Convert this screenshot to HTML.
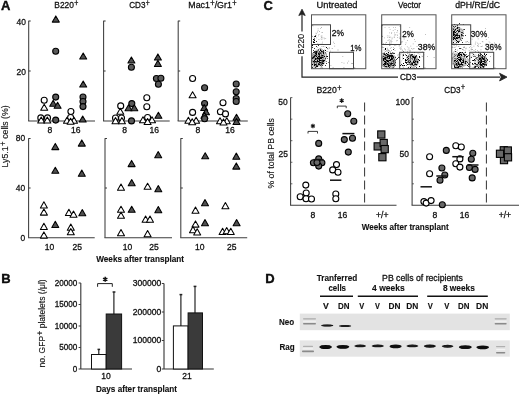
<!DOCTYPE html>
<html><head><meta charset="utf-8"><style>
html,body{margin:0;padding:0;background:#fff;}
svg{display:block;font-family:"Liberation Sans",sans-serif;}
text{fill:#111;stroke:#111;stroke-width:0.3px;}
.b{font-weight:bold;stroke-width:0.12px;}
</style></head><body>
<svg width="520" height="396" viewBox="0 0 520 396" style="will-change:transform">
<defs><clipPath id="cb0"><rect x="311.5" y="14.8" width="54.3" height="53.9"/></clipPath><clipPath id="cb1"><rect x="381.7" y="14.8" width="54.3" height="53.9"/></clipPath><clipPath id="cb2"><rect x="451.7" y="14.8" width="54.3" height="53.9"/></clipPath><filter id="bl" x="-20%" y="-80%" width="140%" height="260%"><feGaussianBlur stdDeviation="0.45"/></filter></defs>
<rect width="520" height="396" fill="#fff"/>
<text class="b" x="0.9" y="9.8" font-size="13" style="stroke:#000;stroke-width:0.35px">A</text>
<text x="54.3" y="8.2" font-size="9.8" textLength="24.1" lengthAdjust="spacingAndGlyphs" >B220<tspan font-size="8.2" dx="0.5" dy="-2.1">+</tspan></text>
<text x="129.2" y="8.2" font-size="9.8" textLength="20.6" lengthAdjust="spacingAndGlyphs" >CD3<tspan font-size="8.2" dx="0.5" dy="-2.1">+</tspan></text>
<text x="188.3" y="8.2" font-size="9.8" textLength="48.3" lengthAdjust="spacingAndGlyphs" >Mac1<tspan font-size="8.2" dx="0.5" dy="-2.1">+</tspan><tspan dy="2.1">/Gr1</tspan><tspan font-size="8.2" dx="0.5" dy="-2.1">+</tspan></text>
<line x1="28.7" y1="20.8" x2="28.7" y2="121.0" stroke="#3c3c3c" stroke-width="1.05" />
<line x1="28.15" y1="121.0" x2="95" y2="121.0" stroke="#3c3c3c" stroke-width="1.05" />
<line x1="28.7" y1="21.0" x2="30.7" y2="21.0" stroke="#3c3c3c" stroke-width="1.05" />
<line x1="28.7" y1="71.0" x2="30.7" y2="71.0" stroke="#3c3c3c" stroke-width="1.05" />
<line x1="103.6" y1="20.8" x2="103.6" y2="121.0" stroke="#3c3c3c" stroke-width="1.05" />
<line x1="103.05" y1="121.0" x2="169.7" y2="121.0" stroke="#3c3c3c" stroke-width="1.05" />
<line x1="103.6" y1="21.0" x2="105.6" y2="21.0" stroke="#3c3c3c" stroke-width="1.05" />
<line x1="103.6" y1="71.0" x2="105.6" y2="71.0" stroke="#3c3c3c" stroke-width="1.05" />
<line x1="178.2" y1="20.8" x2="178.2" y2="121.0" stroke="#3c3c3c" stroke-width="1.05" />
<line x1="177.64999999999998" y1="121.0" x2="247.8" y2="121.0" stroke="#3c3c3c" stroke-width="1.05" />
<line x1="178.2" y1="21.0" x2="180.2" y2="21.0" stroke="#3c3c3c" stroke-width="1.05" />
<line x1="178.2" y1="71.0" x2="180.2" y2="71.0" stroke="#3c3c3c" stroke-width="1.05" />
<line x1="28.6" y1="138.3" x2="28.6" y2="237.8" stroke="#3c3c3c" stroke-width="1.05" />
<line x1="28.05" y1="237.8" x2="94.7" y2="237.8" stroke="#3c3c3c" stroke-width="1.05" />
<line x1="28.6" y1="138.5" x2="30.6" y2="138.5" stroke="#3c3c3c" stroke-width="1.05" />
<line x1="28.6" y1="188.0" x2="30.6" y2="188.0" stroke="#3c3c3c" stroke-width="1.05" />
<line x1="105.0" y1="138.3" x2="105.0" y2="237.8" stroke="#3c3c3c" stroke-width="1.05" />
<line x1="104.45" y1="237.8" x2="172.0" y2="237.8" stroke="#3c3c3c" stroke-width="1.05" />
<line x1="105.0" y1="138.5" x2="107.0" y2="138.5" stroke="#3c3c3c" stroke-width="1.05" />
<line x1="105.0" y1="188.0" x2="107.0" y2="188.0" stroke="#3c3c3c" stroke-width="1.05" />
<line x1="180.8" y1="138.3" x2="180.8" y2="237.8" stroke="#3c3c3c" stroke-width="1.05" />
<line x1="180.25" y1="237.8" x2="247.2" y2="237.8" stroke="#3c3c3c" stroke-width="1.05" />
<line x1="180.8" y1="138.5" x2="182.8" y2="138.5" stroke="#3c3c3c" stroke-width="1.05" />
<line x1="180.8" y1="188.0" x2="182.8" y2="188.0" stroke="#3c3c3c" stroke-width="1.05" />
<text x="26.0" y="24.5" font-size="9.6" text-anchor="end" textLength="9.4" lengthAdjust="spacingAndGlyphs">40</text>
<text x="26.0" y="75.3" font-size="9.6" text-anchor="end" textLength="9.4" lengthAdjust="spacingAndGlyphs">20</text>
<text x="25.1" y="141.3" font-size="9.6" text-anchor="end" textLength="9.4" lengthAdjust="spacingAndGlyphs">80</text>
<text x="25.1" y="191.3" font-size="9.6" text-anchor="end" textLength="9.4" lengthAdjust="spacingAndGlyphs">40</text>
<text x="25.1" y="241.1" font-size="9.6" text-anchor="end" textLength="4.7" lengthAdjust="spacingAndGlyphs">0</text>
<text transform="translate(8.4,167.5) rotate(-90)" font-size="9.0" textLength="62.2" lengthAdjust="spacingAndGlyphs" style="stroke-width:0.12px">Ly5.1<tspan font-size="8.2" dx="0.5" dy="-2.1">+</tspan><tspan dy="2.1"> cells (%)</tspan></text>
<text x="50.0" y="133.3" font-size="9.0" text-anchor="middle" textLength="4.8" lengthAdjust="spacingAndGlyphs">8</text>
<text x="75.7" y="133.3" font-size="9.0" text-anchor="middle" textLength="9.5" lengthAdjust="spacingAndGlyphs">16</text>
<text x="124.7" y="133.3" font-size="9.0" text-anchor="middle" textLength="4.8" lengthAdjust="spacingAndGlyphs">8</text>
<text x="154.3" y="133.3" font-size="9.0" text-anchor="middle" textLength="9.5" lengthAdjust="spacingAndGlyphs">16</text>
<text x="197.9" y="133.3" font-size="9.0" text-anchor="middle" textLength="4.8" lengthAdjust="spacingAndGlyphs">8</text>
<text x="229.9" y="133.3" font-size="9.0" text-anchor="middle" textLength="9.5" lengthAdjust="spacingAndGlyphs">16</text>
<text x="49.5" y="249.9" font-size="9.0" text-anchor="middle" textLength="9.5" lengthAdjust="spacingAndGlyphs">10</text>
<text x="77.3" y="249.9" font-size="9.0" text-anchor="middle" textLength="9.5" lengthAdjust="spacingAndGlyphs">25</text>
<text x="127.4" y="249.9" font-size="9.0" text-anchor="middle" textLength="9.5" lengthAdjust="spacingAndGlyphs">10</text>
<text x="154.0" y="249.9" font-size="9.0" text-anchor="middle" textLength="9.5" lengthAdjust="spacingAndGlyphs">25</text>
<text x="199.7" y="249.9" font-size="9.0" text-anchor="middle" textLength="9.5" lengthAdjust="spacingAndGlyphs">10</text>
<text x="231.8" y="249.9" font-size="9.0" text-anchor="middle" textLength="9.5" lengthAdjust="spacingAndGlyphs">25</text>
<text class="b" x="96.2" y="262.0" font-size="8.3" textLength="87.9" lengthAdjust="spacingAndGlyphs" >Weeks after transplant</text>
<circle cx="40.8" cy="117.9" r="3.0" fill="#fff" stroke="#000" stroke-width="1.1"/>
<circle cx="47.5" cy="117.9" r="3.0" fill="#fff" stroke="#000" stroke-width="1.1"/>
<path d="M41.2 117.0L44.7 123.0L37.7 123.0Z" fill="#fff" stroke="#000" stroke-width="1.05" stroke-linejoin="round"/>
<path d="M47.3 117.0L50.8 123.0L43.8 123.0Z" fill="#fff" stroke="#000" stroke-width="1.05" stroke-linejoin="round"/>
<circle cx="44.2" cy="100.2" r="3.0" fill="#fff" stroke="#000" stroke-width="1.1"/>
<path d="M44.2 104.2L47.7 110.2L40.7 110.2Z" fill="#fff" stroke="#000" stroke-width="1.05" stroke-linejoin="round"/>
<circle cx="70.6" cy="117.5" r="3.0" fill="#fff" stroke="#000" stroke-width="1.1"/>
<circle cx="70.9" cy="111.5" r="3.0" fill="#fff" stroke="#000" stroke-width="1.1"/>
<path d="M67.0 117.2L70.5 123.3L63.5 123.3Z" fill="#fff" stroke="#000" stroke-width="1.05" stroke-linejoin="round"/>
<path d="M74.0 117.2L77.5 123.3L70.5 123.3Z" fill="#fff" stroke="#000" stroke-width="1.05" stroke-linejoin="round"/>
<path d="M70.6 118.2L74.1 124.3L67.1 124.3Z" fill="#fff" stroke="#000" stroke-width="1.05" stroke-linejoin="round"/>
<circle cx="55.7" cy="51.2" r="3.0" fill="#5a5a5a" stroke="#000" stroke-width="1.1"/>
<path d="M55.8 15.9L59.3 22.1L52.3 22.1Z" fill="#505050" stroke="#000" stroke-width="1.05" stroke-linejoin="round"/>
<circle cx="55.7" cy="97.1" r="3.0" fill="#5a5a5a" stroke="#000" stroke-width="1.1"/>
<path d="M53.2 100.2L56.7 106.2L49.7 106.2Z" fill="#505050" stroke="#000" stroke-width="1.05" stroke-linejoin="round"/>
<path d="M57.6 102.2L61.1 108.2L54.1 108.2Z" fill="#505050" stroke="#000" stroke-width="1.05" stroke-linejoin="round"/>
<circle cx="55.7" cy="120.1" r="3.0" fill="#5a5a5a" stroke="#000" stroke-width="1.1"/>
<path d="M83.2 53.0L86.7 59.0L79.7 59.0Z" fill="#505050" stroke="#000" stroke-width="1.05" stroke-linejoin="round"/>
<path d="M83.2 81.0L86.7 87.0L79.7 87.0Z" fill="#505050" stroke="#000" stroke-width="1.05" stroke-linejoin="round"/>
<circle cx="83.0" cy="97.0" r="3.0" fill="#5a5a5a" stroke="#000" stroke-width="1.1"/>
<circle cx="83.0" cy="101.5" r="3.0" fill="#5a5a5a" stroke="#000" stroke-width="1.1"/>
<circle cx="83.0" cy="106.6" r="3.0" fill="#5a5a5a" stroke="#000" stroke-width="1.1"/>
<path d="M82.7 116.0L86.2 122.0L79.2 122.0Z" fill="#505050" stroke="#000" stroke-width="1.05" stroke-linejoin="round"/>
<circle cx="115.5" cy="118.0" r="3.0" fill="#fff" stroke="#000" stroke-width="1.1"/>
<circle cx="121.5" cy="118.0" r="3.0" fill="#fff" stroke="#000" stroke-width="1.1"/>
<path d="M115.5 117.6L119.0 123.7L112.0 123.7Z" fill="#fff" stroke="#000" stroke-width="1.05" stroke-linejoin="round"/>
<path d="M121.9 117.6L125.4 123.7L118.4 123.7Z" fill="#fff" stroke="#000" stroke-width="1.05" stroke-linejoin="round"/>
<circle cx="120.7" cy="105.9" r="3.0" fill="#fff" stroke="#000" stroke-width="1.1"/>
<path d="M120.3 108.2L123.8 114.2L116.8 114.2Z" fill="#fff" stroke="#000" stroke-width="1.05" stroke-linejoin="round"/>
<circle cx="147.6" cy="117.5" r="3.0" fill="#fff" stroke="#000" stroke-width="1.1"/>
<path d="M143.0 116.7L146.5 122.8L139.5 122.8Z" fill="#fff" stroke="#000" stroke-width="1.05" stroke-linejoin="round"/>
<path d="M152.0 116.7L155.5 122.8L148.5 122.8Z" fill="#fff" stroke="#000" stroke-width="1.05" stroke-linejoin="round"/>
<path d="M147.6 118.5L151.1 124.5L144.1 124.5Z" fill="#fff" stroke="#000" stroke-width="1.05" stroke-linejoin="round"/>
<circle cx="146.8" cy="97.7" r="3.0" fill="#fff" stroke="#000" stroke-width="1.1"/>
<circle cx="146.8" cy="106.8" r="3.0" fill="#fff" stroke="#000" stroke-width="1.1"/>
<path d="M131.4 57.0L134.9 63.0L127.9 63.0Z" fill="#505050" stroke="#000" stroke-width="1.05" stroke-linejoin="round"/>
<circle cx="131.4" cy="67.2" r="3.0" fill="#5a5a5a" stroke="#000" stroke-width="1.1"/>
<circle cx="131.8" cy="103.6" r="3.0" fill="#5a5a5a" stroke="#000" stroke-width="1.1"/>
<path d="M128.5 104.7L132.0 110.8L125.0 110.8Z" fill="#505050" stroke="#000" stroke-width="1.05" stroke-linejoin="round"/>
<path d="M134.3 104.7L137.8 110.8L130.8 110.8Z" fill="#505050" stroke="#000" stroke-width="1.05" stroke-linejoin="round"/>
<circle cx="131.5" cy="120.9" r="3.0" fill="#5a5a5a" stroke="#000" stroke-width="1.1"/>
<path d="M157.9 53.9L161.4 60.0L154.4 60.0Z" fill="#505050" stroke="#000" stroke-width="1.05" stroke-linejoin="round"/>
<path d="M157.9 60.3L161.4 66.4L154.4 66.4Z" fill="#505050" stroke="#000" stroke-width="1.05" stroke-linejoin="round"/>
<circle cx="156.4" cy="78.5" r="3.0" fill="#5a5a5a" stroke="#000" stroke-width="1.1"/>
<circle cx="160.9" cy="78.3" r="3.0" fill="#5a5a5a" stroke="#000" stroke-width="1.1"/>
<circle cx="158.4" cy="84.3" r="3.0" fill="#5a5a5a" stroke="#000" stroke-width="1.1"/>
<path d="M158.4 112.2L161.9 118.3L154.9 118.3Z" fill="#505050" stroke="#000" stroke-width="1.05" stroke-linejoin="round"/>
<circle cx="192.6" cy="78.5" r="3.0" fill="#fff" stroke="#000" stroke-width="1.1"/>
<path d="M192.6 91.8L196.1 97.8L189.1 97.8Z" fill="#fff" stroke="#000" stroke-width="1.05" stroke-linejoin="round"/>
<circle cx="192.6" cy="112.4" r="3.0" fill="#fff" stroke="#000" stroke-width="1.1"/>
<path d="M188.4 117.2L191.9 123.3L184.9 123.3Z" fill="#fff" stroke="#000" stroke-width="1.05" stroke-linejoin="round"/>
<path d="M196.1 117.2L199.6 123.3L192.6 123.3Z" fill="#fff" stroke="#000" stroke-width="1.05" stroke-linejoin="round"/>
<path d="M192.2 118.7L195.7 124.8L188.7 124.8Z" fill="#fff" stroke="#000" stroke-width="1.05" stroke-linejoin="round"/>
<circle cx="204.6" cy="87.7" r="3.0" fill="#5a5a5a" stroke="#000" stroke-width="1.1"/>
<circle cx="204.6" cy="103.5" r="3.0" fill="#5a5a5a" stroke="#000" stroke-width="1.1"/>
<path d="M204.2 104.5L207.7 110.5L200.7 110.5Z" fill="#505050" stroke="#000" stroke-width="1.05" stroke-linejoin="round"/>
<path d="M206.0 108.7L209.5 114.8L202.5 114.8Z" fill="#505050" stroke="#000" stroke-width="1.05" stroke-linejoin="round"/>
<path d="M204.4 112.2L207.9 118.2L200.9 118.2Z" fill="#505050" stroke="#000" stroke-width="1.05" stroke-linejoin="round"/>
<circle cx="204.6" cy="118.8" r="3.0" fill="#5a5a5a" stroke="#000" stroke-width="1.1"/>
<circle cx="223.0" cy="102.7" r="3.0" fill="#fff" stroke="#000" stroke-width="1.1"/>
<circle cx="220.4" cy="111.7" r="3.0" fill="#fff" stroke="#000" stroke-width="1.1"/>
<circle cx="225.5" cy="113.9" r="3.0" fill="#fff" stroke="#000" stroke-width="1.1"/>
<path d="M220.0 117.7L223.5 123.8L216.5 123.8Z" fill="#fff" stroke="#000" stroke-width="1.05" stroke-linejoin="round"/>
<path d="M226.8 117.7L230.3 123.8L223.3 123.8Z" fill="#fff" stroke="#000" stroke-width="1.05" stroke-linejoin="round"/>
<path d="M223.5 118.9L227.0 125.0L220.0 125.0Z" fill="#fff" stroke="#000" stroke-width="1.05" stroke-linejoin="round"/>
<circle cx="236.2" cy="84.0" r="3.0" fill="#5a5a5a" stroke="#000" stroke-width="1.1"/>
<circle cx="236.2" cy="91.8" r="3.0" fill="#5a5a5a" stroke="#000" stroke-width="1.1"/>
<circle cx="236.2" cy="98.5" r="3.0" fill="#5a5a5a" stroke="#000" stroke-width="1.1"/>
<circle cx="236.2" cy="101.5" r="3.0" fill="#5a5a5a" stroke="#000" stroke-width="1.1"/>
<path d="M236.5 114.2L240.0 120.2L233.0 120.2Z" fill="#505050" stroke="#000" stroke-width="1.05" stroke-linejoin="round"/>
<path d="M236.5 118.4L240.0 124.5L233.0 124.5Z" fill="#505050" stroke="#000" stroke-width="1.05" stroke-linejoin="round"/>
<path d="M43.9 201.8L47.4 207.9L40.4 207.9Z" fill="#fff" stroke="#000" stroke-width="1.05" stroke-linejoin="round"/>
<path d="M43.9 208.9L47.4 215.1L40.4 215.1Z" fill="#fff" stroke="#000" stroke-width="1.05" stroke-linejoin="round"/>
<path d="M43.9 223.3L47.4 229.4L40.4 229.4Z" fill="#fff" stroke="#000" stroke-width="1.05" stroke-linejoin="round"/>
<path d="M43.9 231.9L47.4 238.1L40.4 238.1Z" fill="#fff" stroke="#000" stroke-width="1.05" stroke-linejoin="round"/>
<path d="M68.9 209.3L72.4 215.4L65.4 215.4Z" fill="#fff" stroke="#000" stroke-width="1.05" stroke-linejoin="round"/>
<path d="M73.5 211.1L77.0 217.2L70.0 217.2Z" fill="#fff" stroke="#000" stroke-width="1.05" stroke-linejoin="round"/>
<path d="M70.8 224.0L74.3 230.2L67.3 230.2Z" fill="#fff" stroke="#000" stroke-width="1.05" stroke-linejoin="round"/>
<path d="M70.8 228.6L74.3 234.8L67.3 234.8Z" fill="#fff" stroke="#000" stroke-width="1.05" stroke-linejoin="round"/>
<path d="M55.3 143.4L58.8 149.6L51.8 149.6Z" fill="#505050" stroke="#000" stroke-width="1.05" stroke-linejoin="round"/>
<path d="M55.3 167.2L58.8 173.3L51.8 173.3Z" fill="#505050" stroke="#000" stroke-width="1.05" stroke-linejoin="round"/>
<path d="M81.8 139.9L85.3 146.1L78.3 146.1Z" fill="#505050" stroke="#000" stroke-width="1.05" stroke-linejoin="round"/>
<path d="M81.8 170.0L85.3 176.2L78.3 176.2Z" fill="#505050" stroke="#000" stroke-width="1.05" stroke-linejoin="round"/>
<path d="M55.3 221.3L58.8 227.4L51.8 227.4Z" fill="#505050" stroke="#000" stroke-width="1.05" stroke-linejoin="round"/>
<path d="M82.3 209.6L85.8 215.8L78.8 215.8Z" fill="#505050" stroke="#000" stroke-width="1.05" stroke-linejoin="round"/>
<path d="M121.0 184.0L124.5 190.2L117.5 190.2Z" fill="#fff" stroke="#000" stroke-width="1.05" stroke-linejoin="round"/>
<path d="M147.6 183.2L151.1 189.3L144.1 189.3Z" fill="#fff" stroke="#000" stroke-width="1.05" stroke-linejoin="round"/>
<path d="M121.0 206.2L124.5 212.3L117.5 212.3Z" fill="#fff" stroke="#000" stroke-width="1.05" stroke-linejoin="round"/>
<path d="M121.0 212.2L124.5 218.3L117.5 218.3Z" fill="#fff" stroke="#000" stroke-width="1.05" stroke-linejoin="round"/>
<path d="M121.0 229.5L124.5 235.7L117.5 235.7Z" fill="#fff" stroke="#000" stroke-width="1.05" stroke-linejoin="round"/>
<path d="M145.6 216.0L149.1 222.2L142.1 222.2Z" fill="#fff" stroke="#000" stroke-width="1.05" stroke-linejoin="round"/>
<path d="M150.0 216.0L153.5 222.2L146.5 222.2Z" fill="#fff" stroke="#000" stroke-width="1.05" stroke-linejoin="round"/>
<path d="M147.6 230.5L151.1 236.7L144.1 236.7Z" fill="#fff" stroke="#000" stroke-width="1.05" stroke-linejoin="round"/>
<path d="M131.6 160.4L135.1 166.6L128.1 166.6Z" fill="#505050" stroke="#000" stroke-width="1.05" stroke-linejoin="round"/>
<path d="M158.2 151.6L161.7 157.8L154.7 157.8Z" fill="#505050" stroke="#000" stroke-width="1.05" stroke-linejoin="round"/>
<path d="M131.7 179.6L135.2 185.8L128.2 185.8Z" fill="#505050" stroke="#000" stroke-width="1.05" stroke-linejoin="round"/>
<path d="M158.3 185.6L161.8 191.8L154.8 191.8Z" fill="#505050" stroke="#000" stroke-width="1.05" stroke-linejoin="round"/>
<path d="M131.7 206.2L135.2 212.3L128.2 212.3Z" fill="#505050" stroke="#000" stroke-width="1.05" stroke-linejoin="round"/>
<path d="M158.3 206.5L161.8 212.7L154.8 212.7Z" fill="#505050" stroke="#000" stroke-width="1.05" stroke-linejoin="round"/>
<path d="M195.5 207.0L199.0 213.2L192.0 213.2Z" fill="#fff" stroke="#000" stroke-width="1.05" stroke-linejoin="round"/>
<path d="M225.4 202.6L228.9 208.8L221.9 208.8Z" fill="#fff" stroke="#000" stroke-width="1.05" stroke-linejoin="round"/>
<path d="M195.5 220.9L199.0 227.1L192.0 227.1Z" fill="#fff" stroke="#000" stroke-width="1.05" stroke-linejoin="round"/>
<path d="M193.0 226.6L196.5 232.8L189.5 232.8Z" fill="#fff" stroke="#000" stroke-width="1.05" stroke-linejoin="round"/>
<path d="M197.2 228.8L200.7 234.9L193.7 234.9Z" fill="#fff" stroke="#000" stroke-width="1.05" stroke-linejoin="round"/>
<path d="M222.6 228.3L226.1 234.4L219.1 234.4Z" fill="#fff" stroke="#000" stroke-width="1.05" stroke-linejoin="round"/>
<path d="M226.7 227.6L230.2 233.8L223.2 233.8Z" fill="#fff" stroke="#000" stroke-width="1.05" stroke-linejoin="round"/>
<path d="M230.8 228.3L234.3 234.4L227.3 234.4Z" fill="#fff" stroke="#000" stroke-width="1.05" stroke-linejoin="round"/>
<path d="M205.2 152.7L208.7 158.8L201.7 158.8Z" fill="#505050" stroke="#000" stroke-width="1.05" stroke-linejoin="round"/>
<path d="M236.3 153.1L239.8 159.2L232.8 159.2Z" fill="#505050" stroke="#000" stroke-width="1.05" stroke-linejoin="round"/>
<path d="M236.3 162.9L239.8 169.1L232.8 169.1Z" fill="#505050" stroke="#000" stroke-width="1.05" stroke-linejoin="round"/>
<path d="M205.0 199.6L208.5 205.8L201.5 205.8Z" fill="#505050" stroke="#000" stroke-width="1.05" stroke-linejoin="round"/>
<path d="M205.0 219.6L208.5 225.8L201.5 225.8Z" fill="#505050" stroke="#000" stroke-width="1.05" stroke-linejoin="round"/>
<path d="M236.6 219.6L240.1 225.8L233.1 225.8Z" fill="#505050" stroke="#000" stroke-width="1.05" stroke-linejoin="round"/>
<text class="b" x="1.3" y="282.5" font-size="13" style="stroke:#000;stroke-width:0.35px">B</text>
<line x1="80.8" y1="283" x2="80.8" y2="369" stroke="#333" stroke-width="1.1" />
<line x1="80.8" y1="369" x2="132" y2="369" stroke="#333" stroke-width="1.1" />
<line x1="78.6" y1="369" x2="80.8" y2="369" stroke="#3c3c3c" stroke-width="1.05" />
<text x="77.3" y="371.7" font-size="8.3" text-anchor="end" textLength="4.5" lengthAdjust="spacingAndGlyphs">0</text>
<line x1="78.6" y1="347.5" x2="80.8" y2="347.5" stroke="#3c3c3c" stroke-width="1.05" />
<text x="77.3" y="350.1" font-size="8.3" text-anchor="end" textLength="18.1" lengthAdjust="spacingAndGlyphs">5000</text>
<line x1="78.6" y1="326" x2="80.8" y2="326" stroke="#3c3c3c" stroke-width="1.05" />
<text x="77.3" y="328.7" font-size="8.3" text-anchor="end" textLength="22.6" lengthAdjust="spacingAndGlyphs">10000</text>
<line x1="78.6" y1="304.5" x2="80.8" y2="304.5" stroke="#3c3c3c" stroke-width="1.05" />
<text x="77.3" y="307.1" font-size="8.3" text-anchor="end" textLength="22.6" lengthAdjust="spacingAndGlyphs">15000</text>
<line x1="78.6" y1="283" x2="80.8" y2="283" stroke="#3c3c3c" stroke-width="1.05" />
<text x="77.3" y="286.1" font-size="8.3" text-anchor="end" textLength="22.6" lengthAdjust="spacingAndGlyphs">20000</text>
<rect x="91.5" y="354.5" width="14.7" height="14.5" fill="#fff" stroke="#111" stroke-width="1"/>
<rect x="106.2" y="314" width="15.4" height="55" fill="#3a3a3a" stroke="#111" stroke-width="1"/>
<line x1="98.8" y1="354.5" x2="98.8" y2="349.4" stroke="#111" stroke-width="1.1" />
<line x1="97.5" y1="349.4" x2="100.1" y2="349.4" stroke="#222" stroke-width="1.5" />
<line x1="113.9" y1="314" x2="113.9" y2="292" stroke="#111" stroke-width="1.1" />
<line x1="112.6" y1="292" x2="115.4" y2="292" stroke="#222" stroke-width="1.5" />
<path d="M97.6 286.8V283.6H112.3V286.8" fill="none" stroke="#222" stroke-width="1"/>
<path d="M105.20 276.80L105.20 281.80M103.03 278.05L107.37 280.55M103.03 280.55L107.37 278.05" stroke="#111" stroke-width="1.5"/>
<text x="106.0" y="378.8" font-size="9.0" text-anchor="middle" textLength="9.5" lengthAdjust="spacingAndGlyphs">10</text>
<line x1="164" y1="283.5" x2="164" y2="369" stroke="#333" stroke-width="1.1" />
<line x1="164" y1="369" x2="213.8" y2="369" stroke="#333" stroke-width="1.1" />
<line x1="161.8" y1="369" x2="164" y2="369" stroke="#3c3c3c" stroke-width="1.05" />
<text x="161.3" y="372.0" font-size="8.3" text-anchor="end" textLength="4.8" lengthAdjust="spacingAndGlyphs">0</text>
<line x1="161.8" y1="340.5" x2="164" y2="340.5" stroke="#3c3c3c" stroke-width="1.05" />
<text x="161.3" y="343.3" font-size="8.3" text-anchor="end" textLength="28.5" lengthAdjust="spacingAndGlyphs">100000</text>
<line x1="161.8" y1="312" x2="164" y2="312" stroke="#3c3c3c" stroke-width="1.05" />
<text x="161.3" y="315.0" font-size="8.3" text-anchor="end" textLength="28.5" lengthAdjust="spacingAndGlyphs">200000</text>
<line x1="161.8" y1="283.5" x2="164" y2="283.5" stroke="#3c3c3c" stroke-width="1.05" />
<text x="161.3" y="286.3" font-size="8.3" text-anchor="end" textLength="28.5" lengthAdjust="spacingAndGlyphs">300000</text>
<rect x="173.4" y="325.9" width="14.7" height="43.1" fill="#fff" stroke="#111" stroke-width="1"/>
<rect x="188.1" y="312.9" width="14.4" height="56.1" fill="#3a3a3a" stroke="#111" stroke-width="1"/>
<line x1="180.9" y1="325.9" x2="180.9" y2="294.6" stroke="#111" stroke-width="1.1" />
<line x1="179.5" y1="294.6" x2="182.3" y2="294.6" stroke="#222" stroke-width="1.5" />
<line x1="195.0" y1="312.9" x2="195.0" y2="286.4" stroke="#111" stroke-width="1.1" />
<line x1="193.6" y1="286.4" x2="196.4" y2="286.4" stroke="#222" stroke-width="1.5" />
<text x="187.0" y="378.8" font-size="9.0" text-anchor="middle" textLength="9.5" lengthAdjust="spacingAndGlyphs">21</text>
<text class="b" x="95.9" y="392.0" font-size="8.3" textLength="81.1" lengthAdjust="spacingAndGlyphs" >Days after transplant</text>
<text transform="translate(45.4,367.6) rotate(-90)" font-size="8.6" textLength="88.3" lengthAdjust="spacingAndGlyphs" style="stroke-width:0.12px">no. GFP<tspan font-size="8.2" dx="0.5" dy="-2.1">+</tspan><tspan dy="2.1"> platelets (/μl)</tspan></text>
<text class="b" x="263.4" y="9.9" font-size="13" style="stroke:#000;stroke-width:0.35px">C</text>
<path d="M302 31.5V14.5M302 56.3V77.1H398.0M416.9 77.1H500" fill="none" stroke="#222" stroke-width="1.2"/>
<path d="M302 9.2L305.2 15.5L302 14.2L298.8 15.5Z" fill="#222" stroke="#222" stroke-width="0.8"/>
<path d="M507 77.1L499.6 73.3L501.2 77.1L499.6 80.9Z" fill="#222" stroke="#222" stroke-width="0.8"/>
<text transform="translate(304.3,54.4) rotate(-90)" font-size="9.2" textLength="20.5" lengthAdjust="spacingAndGlyphs" style="stroke-width:0.12px">B220</text>
<text x="399.9" y="79.7" font-size="9.2" textLength="16.3" lengthAdjust="spacingAndGlyphs" >CD3</text>
<text x="316.6" y="8.2" font-size="9.8" textLength="40.9" lengthAdjust="spacingAndGlyphs" >Untreated</text>
<path d="M318.5 39.1h0.8v0.8h-0.8zM318.6 34.1h0.8v0.8h-0.8zM315.8 34.7h0.8v0.8h-0.8zM323.9 38.5h0.8v0.8h-0.8zM323.6 37.5h0.8v0.8h-0.8zM321.1 37.1h0.8v0.8h-0.8zM312.8 41.1h0.8v0.8h-0.8zM321.5 39.0h0.8v0.8h-0.8zM312.7 25.5h0.8v0.8h-0.8zM315.9 33.2h0.8v0.8h-0.8zM320.7 35.7h0.8v0.8h-0.8zM321.6 32.1h0.8v0.8h-0.8zM320.7 38.4h0.8v0.8h-0.8zM321.7 43.2h0.8v0.8h-0.8zM317.0 31.6h0.8v0.8h-0.8zM318.1 35.4h0.8v0.8h-0.8zM322.0 37.5h0.8v0.8h-0.8zM317.7 30.3h0.8v0.8h-0.8zM317.4 43.3h0.8v0.8h-0.8zM316.3 37.5h0.8v0.8h-0.8zM321.2 27.1h0.8v0.8h-0.8zM319.7 43.8h0.8v0.8h-0.8zM319.1 31.1h0.8v0.8h-0.8zM321.5 35.6h0.8v0.8h-0.8zM313.6 41.0h0.8v0.8h-0.8zM322.2 41.7h0.8v0.8h-0.8zM325.3 38.2h0.8v0.8h-0.8zM320.0 28.2h0.8v0.8h-0.8zM322.0 32.3h0.8v0.8h-0.8zM317.7 28.4h0.8v0.8h-0.8zM315.6 32.8h0.8v0.8h-0.8zM313.7 37.4h0.8v0.8h-0.8z" fill="#666" opacity="0.6"/>
<path d="M351.0 62.9h0.8v0.8h-0.8zM342.4 56.3h0.8v0.8h-0.8zM330.5 64.9h0.8v0.8h-0.8zM348.3 60.8h0.8v0.8h-0.8zM341.5 62.2h0.8v0.8h-0.8zM352.3 63.1h0.8v0.8h-0.8zM343.6 62.7h0.8v0.8h-0.8zM347.1 62.6h0.8v0.8h-0.8z" fill="#555" opacity="0.6"/>
<path d="M324.4 53.1h0.8v0.8h-0.8zM317.6 56.1h0.8v0.8h-0.8zM328.8 47.2h0.8v0.8h-0.8zM327.4 51.2h0.8v0.8h-0.8zM326.2 53.7h0.8v0.8h-0.8zM321.5 45.9h0.8v0.8h-0.8zM331.8 48.1h0.8v0.8h-0.8zM320.2 52.7h0.8v0.8h-0.8zM334.3 45.8h0.8v0.8h-0.8zM317.2 47.3h0.8v0.8h-0.8zM324.6 46.5h0.8v0.8h-0.8zM333.9 42.9h0.8v0.8h-0.8zM333.1 41.7h0.8v0.8h-0.8zM320.8 51.2h0.8v0.8h-0.8zM332.3 52.3h0.8v0.8h-0.8zM327.6 48.7h0.8v0.8h-0.8zM326.4 50.9h0.8v0.8h-0.8zM324.4 49.4h0.8v0.8h-0.8zM328.9 48.0h0.8v0.8h-0.8zM330.1 50.8h0.8v0.8h-0.8zM337.6 49.6h0.8v0.8h-0.8zM322.9 46.1h0.8v0.8h-0.8zM325.4 52.6h0.8v0.8h-0.8zM323.5 49.9h0.8v0.8h-0.8z" fill="#555" opacity="0.6"/>
<path clip-path="url(#cb0)" d="M326.0 59.0 L325.6 61.7 L324.5 64.0 L323.0 65.7 L321.3 66.5 L319.5 66.3 L318.0 66.8 L316.1 68.3 L314.0 68.2 L312.6 66.2 L311.3 64.1 L310.3 61.7 L310.3 59.0 L311.0 56.5 L311.9 54.3 L313.3 52.7 L314.7 51.3 L316.1 49.6 L318.0 49.4 L319.6 50.8 L321.2 51.7 L323.2 52.1 L324.9 53.7 L325.6 56.3Z" fill="#c4c4c4"/>
<path d="M312 45h1v1h-1zM326 47h1v1h-1zM320 50h1v1h-1zM325 50h1v1h-1zM316 51h1v1h-1zM321 51h1v1h-1zM316 52h1v1h-1zM323 52h1v1h-1zM315 53h1v1h-1zM316 53h1v1h-1zM318 53h1v1h-1zM323 53h1v1h-1zM316 54h1v1h-1zM319 54h1v1h-1zM315 55h1v1h-1zM322 55h1v1h-1zM314 56h1v1h-1zM316 56h1v1h-1zM318 56h1v1h-1zM319 56h1v1h-1zM324 56h1v1h-1zM327 56h1v1h-1zM313 57h1v1h-1zM317 57h1v1h-1zM320 57h1v1h-1zM321 57h1v1h-1zM322 57h1v1h-1zM312 58h1v1h-1zM315 58h1v1h-1zM317 58h1v1h-1zM318 58h1v1h-1zM319 58h1v1h-1zM320 58h1v1h-1zM321 58h1v1h-1zM315 59h1v1h-1zM319 59h1v1h-1zM314 60h1v1h-1zM317 60h1v1h-1zM319 60h1v1h-1zM320 60h1v1h-1zM323 60h1v1h-1zM324 60h1v1h-1zM313 61h1v1h-1zM315 61h1v1h-1zM317 61h1v1h-1zM318 61h1v1h-1zM323 61h1v1h-1zM319 62h1v1h-1zM320 62h1v1h-1zM322 63h1v1h-1zM323 63h1v1h-1zM312 64h1v1h-1zM314 64h1v1h-1zM315 64h1v1h-1zM318 64h1v1h-1zM319 64h1v1h-1zM314 65h1v1h-1zM316 66h1v1h-1zM317 66h1v1h-1z" fill="#000"/>
<path d="M324 44h1v1h-1zM318 45h1v1h-1zM316 46h1v1h-1zM312 47h1v1h-1zM314 48h1v1h-1zM320 49h1v1h-1zM313 50h1v1h-1zM323 50h1v1h-1zM314 51h1v1h-1zM315 51h1v1h-1zM319 51h1v1h-1zM322 51h1v1h-1zM323 51h1v1h-1zM313 52h1v1h-1zM314 52h1v1h-1zM315 52h1v1h-1zM319 53h1v1h-1zM320 53h1v1h-1zM318 54h1v1h-1zM314 55h1v1h-1zM319 55h1v1h-1zM321 55h1v1h-1zM313 56h1v1h-1zM326 56h1v1h-1zM312 57h1v1h-1zM319 57h1v1h-1zM316 58h1v1h-1zM325 58h1v1h-1zM321 60h1v1h-1zM322 60h1v1h-1zM314 61h1v1h-1zM316 61h1v1h-1zM319 61h1v1h-1zM322 61h1v1h-1zM314 62h1v1h-1zM322 62h1v1h-1zM318 63h1v1h-1zM326 63h1v1h-1zM316 64h1v1h-1zM321 64h1v1h-1zM316 65h1v1h-1zM320 65h1v1h-1zM322 65h1v1h-1zM325 65h1v1h-1zM312 67h1v1h-1zM315 67h1v1h-1z" fill="#3a3a3a"/>
<path d="M321 44h1v1h-1zM327 48h1v1h-1zM318 49h1v1h-1zM318 50h1v1h-1zM321 50h1v1h-1zM317 51h1v1h-1zM319 52h1v1h-1zM320 52h1v1h-1zM325 52h1v1h-1zM321 53h1v1h-1zM315 54h1v1h-1zM321 54h1v1h-1zM316 55h1v1h-1zM323 55h1v1h-1zM321 56h1v1h-1zM322 56h1v1h-1zM314 57h1v1h-1zM318 57h1v1h-1zM323 57h1v1h-1zM313 58h1v1h-1zM327 58h1v1h-1zM316 59h1v1h-1zM317 59h1v1h-1zM318 59h1v1h-1zM326 61h1v1h-1zM316 62h1v1h-1zM321 62h1v1h-1zM328 62h1v1h-1zM314 63h1v1h-1zM316 63h1v1h-1zM319 63h1v1h-1zM321 63h1v1h-1zM317 65h1v1h-1z" fill="#777"/>
<path clip-path="url(#cb0)" d="M325.5 59.2 L324.0 61.3 L322.8 62.9 L322.0 64.4 L321.4 66.9 L320.2 69.6 L318.2 69.9 L316.3 69.1 L314.1 69.0 L312.1 67.6 L311.6 64.4 L311.8 61.5 L311.3 59.2 L311.2 56.6 L312.0 54.3 L313.3 52.5 L315.1 51.9 L316.7 51.7 L318.2 49.9 L320.3 48.3 L322.3 49.5 L323.8 51.5 L325.7 53.2 L326.6 56.1Z M323.3 58.7 L322.6 60.4 L321.8 61.8 L321.2 63.3 L320.3 64.6 L319.0 64.8 L317.9 65.2 L316.4 66.2 L314.9 65.7 L314.2 63.7 L313.4 62.2 L312.2 60.8 L311.7 58.7 L312.1 56.5 L313.1 54.9 L314.6 54.2 L315.8 53.9 L316.7 52.8 L317.9 52.1 L319.0 52.6 L320.4 52.5 L322.5 52.3 L323.9 53.9 L323.8 56.5Z M322.3 59.4 L322.3 60.9 L321.6 62.0 L320.9 62.9 L320.2 63.8 L319.2 63.8 L318.4 63.1 L317.7 62.7 L317.1 62.5 L316.2 62.4 L315.0 62.1 L314.4 60.9 L314.6 59.4 L314.9 58.2 L315.0 56.8 L315.9 56.0 L316.9 56.0 L317.6 55.7 L318.4 55.2 L319.2 55.2 L320.0 55.5 L320.7 56.3 L320.9 57.4 L321.4 58.3Z" fill="none" stroke="#222" stroke-width="0.5" opacity="0.80"/>
<path d="M315 36h1v1h-1zM313 39h1v1h-1zM314 40h1v1h-1zM313 42h1v1h-1zM314 42h1v1h-1z" fill="#000"/>
<path d="M314 36h1v1h-1zM313 41h1v1h-1zM316 41h1v1h-1z" fill="#3a3a3a"/>
<path d="M315 35h1v1h-1zM314 38h1v1h-1zM314 39h1v1h-1z" fill="#777"/>
<path clip-path="url(#cb0)" d="" fill="none" stroke="#222" stroke-width="0.5" opacity="0.28"/>
<rect x="311.5" y="14.8" width="54.3" height="53.9" fill="none" stroke="#555" stroke-width="1"/>
<rect x="311.5" y="24.8" width="19" height="19.7" fill="none" stroke="#444" stroke-width="1"/>
<rect x="329.5" y="52.3" width="24" height="16.4" fill="none" stroke="#444" stroke-width="1"/>
<line x1="322.3" y1="68.7" x2="322.3" y2="67.4" stroke="#444" stroke-width="0.6"/>
<line x1="311.5" y1="25.6" x2="312.8" y2="25.6" stroke="#444" stroke-width="0.6"/>
<line x1="333.1" y1="68.7" x2="333.1" y2="67.4" stroke="#444" stroke-width="0.6"/>
<line x1="311.5" y1="36.4" x2="312.8" y2="36.4" stroke="#444" stroke-width="0.6"/>
<line x1="343.9" y1="68.7" x2="343.9" y2="67.4" stroke="#444" stroke-width="0.6"/>
<line x1="311.5" y1="47.2" x2="312.8" y2="47.2" stroke="#444" stroke-width="0.6"/>
<line x1="354.7" y1="68.7" x2="354.7" y2="67.4" stroke="#444" stroke-width="0.6"/>
<line x1="311.5" y1="58.0" x2="312.8" y2="58.0" stroke="#444" stroke-width="0.6"/>
<text x="397.9" y="7.8" font-size="9.8" textLength="23.1" lengthAdjust="spacingAndGlyphs" >Vector</text>
<path d="M384.1 37.5h0.8v0.8h-0.8zM391.7 37.4h0.8v0.8h-0.8zM387.5 39.9h0.8v0.8h-0.8zM391.1 32.9h0.8v0.8h-0.8zM386.9 35.4h0.8v0.8h-0.8zM388.6 35.6h0.8v0.8h-0.8zM394.7 29.0h0.8v0.8h-0.8zM389.4 41.7h0.8v0.8h-0.8zM394.0 44.9h0.8v0.8h-0.8zM388.0 39.7h0.8v0.8h-0.8zM395.1 27.3h0.8v0.8h-0.8zM393.1 27.0h0.8v0.8h-0.8zM390.6 43.2h0.8v0.8h-0.8zM389.0 37.1h0.8v0.8h-0.8zM393.7 36.8h0.8v0.8h-0.8zM389.3 45.2h0.8v0.8h-0.8zM394.9 34.2h0.8v0.8h-0.8zM394.3 34.4h0.8v0.8h-0.8zM390.4 40.2h0.8v0.8h-0.8zM390.8 39.8h0.8v0.8h-0.8zM392.8 30.2h0.8v0.8h-0.8zM384.6 27.2h0.8v0.8h-0.8zM396.0 40.5h0.8v0.8h-0.8zM397.1 30.4h0.8v0.8h-0.8zM389.7 29.2h0.8v0.8h-0.8zM394.6 34.9h0.8v0.8h-0.8zM389.2 32.4h0.8v0.8h-0.8zM391.7 38.5h0.8v0.8h-0.8zM397.2 29.9h0.8v0.8h-0.8zM395.4 44.9h0.8v0.8h-0.8zM397.0 34.9h0.8v0.8h-0.8zM386.0 42.1h0.8v0.8h-0.8zM390.3 36.7h0.8v0.8h-0.8zM396.8 34.4h0.8v0.8h-0.8zM391.3 32.3h0.8v0.8h-0.8zM389.7 41.0h0.8v0.8h-0.8zM390.1 44.0h0.8v0.8h-0.8zM389.4 42.2h0.8v0.8h-0.8z" fill="#666" opacity="0.6"/>
<path d="M393.6 55.0h0.8v0.8h-0.8zM386.9 47.9h0.8v0.8h-0.8zM399.4 47.8h0.8v0.8h-0.8zM394.6 49.9h0.8v0.8h-0.8zM423.2 48.4h0.8v0.8h-0.8zM408.1 56.0h0.8v0.8h-0.8zM399.3 37.9h0.8v0.8h-0.8zM395.0 56.6h0.8v0.8h-0.8zM413.8 54.3h0.8v0.8h-0.8zM401.8 54.4h0.8v0.8h-0.8zM403.7 38.6h0.8v0.8h-0.8zM382.9 42.9h0.8v0.8h-0.8zM412.8 43.5h0.8v0.8h-0.8zM390.9 41.8h0.8v0.8h-0.8zM383.3 47.1h0.8v0.8h-0.8zM387.5 50.9h0.8v0.8h-0.8zM394.0 32.5h0.8v0.8h-0.8zM410.4 45.8h0.8v0.8h-0.8zM405.2 44.3h0.8v0.8h-0.8zM411.1 54.0h0.8v0.8h-0.8zM409.7 50.6h0.8v0.8h-0.8zM417.7 53.3h0.8v0.8h-0.8zM407.1 31.3h0.8v0.8h-0.8zM412.5 58.5h0.8v0.8h-0.8zM398.1 44.2h0.8v0.8h-0.8zM425.0 33.9h0.8v0.8h-0.8zM390.6 53.5h0.8v0.8h-0.8zM424.3 47.0h0.8v0.8h-0.8zM408.4 55.2h0.8v0.8h-0.8zM390.8 47.3h0.8v0.8h-0.8zM405.2 54.6h0.8v0.8h-0.8zM401.3 46.4h0.8v0.8h-0.8zM389.5 45.1h0.8v0.8h-0.8zM412.4 48.8h0.8v0.8h-0.8zM391.5 41.3h0.8v0.8h-0.8zM433.7 57.1h0.8v0.8h-0.8zM409.3 27.3h0.8v0.8h-0.8zM409.2 51.8h0.8v0.8h-0.8zM421.9 51.4h0.8v0.8h-0.8zM400.9 52.2h0.8v0.8h-0.8zM405.6 42.4h0.8v0.8h-0.8zM417.6 62.5h0.8v0.8h-0.8zM384.9 42.7h0.8v0.8h-0.8zM405.2 49.5h0.8v0.8h-0.8zM396.9 40.2h0.8v0.8h-0.8zM427.1 56.3h0.8v0.8h-0.8zM387.4 37.2h0.8v0.8h-0.8zM422.1 55.9h0.8v0.8h-0.8zM423.6 54.5h0.8v0.8h-0.8zM391.2 50.1h0.8v0.8h-0.8zM401.0 52.2h0.8v0.8h-0.8zM393.0 47.0h0.8v0.8h-0.8zM407.2 51.0h0.8v0.8h-0.8zM409.4 49.7h0.8v0.8h-0.8zM397.8 54.3h0.8v0.8h-0.8zM402.3 41.4h0.8v0.8h-0.8zM394.2 48.0h0.8v0.8h-0.8zM400.4 49.3h0.8v0.8h-0.8zM401.7 49.4h0.8v0.8h-0.8zM400.1 37.9h0.8v0.8h-0.8zM406.8 56.4h0.8v0.8h-0.8zM406.9 46.5h0.8v0.8h-0.8zM407.1 40.3h0.8v0.8h-0.8zM390.5 53.9h0.8v0.8h-0.8zM388.7 27.0h0.8v0.8h-0.8zM389.2 60.6h0.8v0.8h-0.8zM397.1 37.0h0.8v0.8h-0.8zM392.5 52.2h0.8v0.8h-0.8zM407.7 49.4h0.8v0.8h-0.8zM419.5 53.7h0.8v0.8h-0.8zM401.4 52.8h0.8v0.8h-0.8zM421.6 55.8h0.8v0.8h-0.8zM414.0 39.3h0.8v0.8h-0.8zM399.9 53.8h0.8v0.8h-0.8zM398.1 56.6h0.8v0.8h-0.8zM408.9 55.3h0.8v0.8h-0.8zM416.6 46.3h0.8v0.8h-0.8zM397.6 55.0h0.8v0.8h-0.8zM413.5 48.1h0.8v0.8h-0.8zM387.7 49.5h0.8v0.8h-0.8zM406.0 57.0h0.8v0.8h-0.8zM411.1 48.2h0.8v0.8h-0.8zM411.9 52.3h0.8v0.8h-0.8zM404.2 48.4h0.8v0.8h-0.8zM398.8 53.5h0.8v0.8h-0.8zM389.0 43.0h0.8v0.8h-0.8zM401.8 36.3h0.8v0.8h-0.8zM396.5 31.9h0.8v0.8h-0.8zM393.5 52.5h0.8v0.8h-0.8zM408.5 47.6h0.8v0.8h-0.8zM398.9 36.7h0.8v0.8h-0.8zM423.6 52.1h0.8v0.8h-0.8zM414.8 40.9h0.8v0.8h-0.8zM399.5 33.4h0.8v0.8h-0.8zM411.1 55.5h0.8v0.8h-0.8zM409.3 33.9h0.8v0.8h-0.8zM394.1 36.8h0.8v0.8h-0.8zM402.1 50.0h0.8v0.8h-0.8zM409.3 53.6h0.8v0.8h-0.8zM419.7 57.3h0.8v0.8h-0.8zM386.0 44.0h0.8v0.8h-0.8zM389.0 39.4h0.8v0.8h-0.8zM400.7 48.0h0.8v0.8h-0.8zM407.6 35.3h0.8v0.8h-0.8zM386.8 47.8h0.8v0.8h-0.8zM399.3 45.5h0.8v0.8h-0.8zM400.9 41.9h0.8v0.8h-0.8zM410.1 50.8h0.8v0.8h-0.8zM400.6 42.6h0.8v0.8h-0.8zM399.6 26.2h0.8v0.8h-0.8zM389.9 48.3h0.8v0.8h-0.8zM383.7 49.6h0.8v0.8h-0.8zM403.5 37.0h0.8v0.8h-0.8zM398.7 45.5h0.8v0.8h-0.8zM407.2 52.9h0.8v0.8h-0.8zM401.3 41.2h0.8v0.8h-0.8zM400.0 47.5h0.8v0.8h-0.8z" fill="#555" opacity="0.6"/>
<path clip-path="url(#cb1)" d="M395.6 60.5 L396.0 62.7 L395.6 65.0 L394.4 67.0 L392.6 68.4 L390.2 68.4 L388.2 67.8 L386.4 67.6 L384.6 67.0 L383.5 65.4 L382.3 64.0 L380.3 62.7 L379.1 60.5 L379.5 58.1 L380.8 56.0 L382.5 54.6 L384.5 53.8 L386.3 53.0 L388.2 52.6 L390.0 53.4 L391.6 54.3 L393.7 54.8 L395.3 56.2 L395.6 58.4Z" fill="#c4c4c4"/>
<path d="M385 48h1v1h-1zM385 49h1v1h-1zM388 52h1v1h-1zM386 53h1v1h-1zM384 54h1v1h-1zM387 54h1v1h-1zM389 55h1v1h-1zM390 55h1v1h-1zM391 55h1v1h-1zM392 55h1v1h-1zM387 56h1v1h-1zM388 56h1v1h-1zM389 56h1v1h-1zM391 56h1v1h-1zM392 56h1v1h-1zM385 57h1v1h-1zM387 57h1v1h-1zM389 57h1v1h-1zM391 57h1v1h-1zM393 57h1v1h-1zM383 58h1v1h-1zM384 58h1v1h-1zM385 58h1v1h-1zM389 58h1v1h-1zM391 58h1v1h-1zM392 58h1v1h-1zM383 59h1v1h-1zM385 59h1v1h-1zM390 59h1v1h-1zM391 59h1v1h-1zM383 60h1v1h-1zM386 60h1v1h-1zM387 60h1v1h-1zM389 60h1v1h-1zM390 60h1v1h-1zM384 61h1v1h-1zM385 61h1v1h-1zM387 61h1v1h-1zM388 61h1v1h-1zM385 62h1v1h-1zM384 63h1v1h-1zM385 63h1v1h-1zM387 63h1v1h-1zM391 63h1v1h-1zM392 63h1v1h-1zM383 64h1v1h-1zM385 64h1v1h-1zM388 64h1v1h-1zM388 65h1v1h-1zM389 65h1v1h-1zM393 65h1v1h-1zM385 66h1v1h-1zM386 66h1v1h-1zM388 66h1v1h-1z" fill="#000"/>
<path d="M393 49h1v1h-1zM384 53h1v1h-1zM390 53h1v1h-1zM391 53h1v1h-1zM393 53h1v1h-1zM394 53h1v1h-1zM385 54h1v1h-1zM388 54h1v1h-1zM385 55h1v1h-1zM386 55h1v1h-1zM388 55h1v1h-1zM383 56h1v1h-1zM390 56h1v1h-1zM393 56h1v1h-1zM384 57h1v1h-1zM386 57h1v1h-1zM395 57h1v1h-1zM398 57h1v1h-1zM388 58h1v1h-1zM397 58h1v1h-1zM392 59h1v1h-1zM396 59h1v1h-1zM388 60h1v1h-1zM393 60h1v1h-1zM393 61h1v1h-1zM386 62h1v1h-1zM395 62h1v1h-1zM390 63h1v1h-1zM384 64h1v1h-1zM387 64h1v1h-1zM390 64h1v1h-1zM391 64h1v1h-1zM394 64h1v1h-1zM384 65h1v1h-1zM392 65h1v1h-1zM395 65h1v1h-1zM389 67h1v1h-1z" fill="#3a3a3a"/>
<path d="M392 52h1v1h-1zM383 53h1v1h-1zM392 53h1v1h-1zM383 54h1v1h-1zM387 55h1v1h-1zM387 58h1v1h-1zM384 59h1v1h-1zM386 59h1v1h-1zM395 60h1v1h-1zM386 61h1v1h-1zM392 61h1v1h-1zM388 62h1v1h-1zM389 62h1v1h-1zM391 62h1v1h-1zM393 62h1v1h-1zM386 63h1v1h-1zM388 63h1v1h-1zM389 63h1v1h-1zM393 63h1v1h-1zM394 63h1v1h-1zM386 64h1v1h-1zM393 64h1v1h-1zM390 65h1v1h-1zM391 65h1v1h-1zM390 66h1v1h-1zM393 67h1v1h-1z" fill="#777"/>
<path clip-path="url(#cb1)" d="M394.9 60.3 L395.4 62.6 L394.7 64.8 L394.0 67.2 L392.6 69.8 L389.9 69.9 L387.5 67.9 L385.9 67.0 L384.0 66.9 L382.4 65.8 L381.3 64.2 L380.4 62.4 L380.3 60.3 L380.2 58.2 L380.1 55.7 L381.5 53.8 L383.7 53.1 L385.4 51.6 L387.5 50.0 L389.9 51.0 L391.1 53.6 L392.0 55.5 L392.7 57.1 L393.6 58.6Z M395.0 61.0 L394.0 62.9 L391.9 63.7 L390.8 64.5 L390.2 65.8 L389.0 66.5 L387.6 66.4 L386.2 66.6 L384.6 66.6 L383.3 65.7 L382.1 64.4 L381.6 62.8 L382.0 61.0 L381.9 59.4 L381.8 57.4 L383.1 56.2 L385.1 56.4 L386.4 56.3 L387.6 55.8 L388.9 55.9 L390.2 56.2 L391.7 56.6 L393.2 57.6 L394.3 59.1Z M392.4 60.4 L391.4 61.2 L391.0 61.9 L391.0 63.0 L390.4 63.8 L389.5 64.0 L388.6 64.1 L387.6 64.2 L386.7 64.0 L385.7 63.5 L385.0 62.6 L384.9 61.5 L384.7 60.4 L384.6 59.3 L385.3 58.4 L386.6 58.3 L387.3 58.1 L387.8 57.2 L388.6 56.6 L389.6 56.4 L390.7 56.5 L391.6 57.1 L392.2 58.1 L392.7 59.2Z" fill="none" stroke="#222" stroke-width="0.5" opacity="0.80"/>
<path d="M403 55h1v1h-1zM406 55h1v1h-1zM399 57h1v1h-1zM403 58h1v1h-1zM408 58h1v1h-1zM405 59h1v1h-1zM407 59h1v1h-1zM405 60h1v1h-1zM406 60h1v1h-1zM405 62h1v1h-1zM406 62h1v1h-1zM403 63h1v1h-1zM400 65h1v1h-1zM402 65h1v1h-1zM404 65h1v1h-1z" fill="#000"/>
<path d="M411 54h1v1h-1zM408 56h1v1h-1zM410 56h1v1h-1zM412 56h1v1h-1zM413 57h1v1h-1zM415 60h1v1h-1zM409 61h1v1h-1zM415 61h1v1h-1zM409 62h1v1h-1zM401 64h1v1h-1zM408 67h1v1h-1z" fill="#3a3a3a"/>
<path d="M403 51h1v1h-1zM402 52h1v1h-1zM403 54h1v1h-1zM405 54h1v1h-1zM413 59h1v1h-1zM408 60h1v1h-1zM409 60h1v1h-1zM405 61h1v1h-1zM411 61h1v1h-1zM407 62h1v1h-1zM410 64h1v1h-1zM403 65h1v1h-1zM406 65h1v1h-1zM412 65h1v1h-1z" fill="#777"/>
<path clip-path="url(#cb1)" d="M412.5 60.7 L413.0 62.5 L412.3 64.1 L411.3 65.5 L409.9 66.5 L408.4 67.2 L406.8 68.2 L404.9 68.6 L403.4 67.1 L402.4 65.5 L401.1 64.3 L400.6 62.5 L401.7 60.7 L402.5 59.5 L402.4 58.0 L402.5 56.1 L403.3 54.1 L404.8 52.6 L406.8 52.7 L408.6 53.8 L410.3 54.4 L411.5 55.7 L411.4 57.9 L411.4 59.4Z" fill="none" stroke="#222" stroke-width="0.5" opacity="0.32"/>
<path clip-path="url(#cb1)" d="M418.8 61.0 L418.7 62.8 L418.1 64.4 L417.3 65.9 L415.8 66.5 L414.3 66.1 L413.2 66.1 L411.9 66.6 L410.7 66.2 L409.7 65.2 L408.9 64.0 L408.3 62.6 L408.0 61.0 L407.9 59.3 L408.4 57.7 L409.5 56.6 L410.6 55.6 L411.7 54.5 L413.2 54.7 L414.3 56.0 L415.3 56.7 L416.4 57.2 L417.4 58.1 L418.3 59.4Z" fill="#d0d0d0"/>
<path d="M412 56h1v1h-1zM413 56h1v1h-1zM415 56h1v1h-1zM419 56h1v1h-1zM413 57h1v1h-1zM414 57h1v1h-1zM415 57h1v1h-1zM408 58h1v1h-1zM414 58h1v1h-1zM414 59h1v1h-1zM418 59h1v1h-1zM419 60h1v1h-1zM410 61h1v1h-1zM413 61h1v1h-1zM415 61h1v1h-1zM417 61h1v1h-1zM409 62h1v1h-1zM413 62h1v1h-1zM414 62h1v1h-1zM417 62h1v1h-1zM412 63h1v1h-1zM407 64h1v1h-1zM412 64h1v1h-1zM415 64h1v1h-1zM416 64h1v1h-1zM419 66h1v1h-1zM410 67h1v1h-1z" fill="#000"/>
<path d="M414 52h1v1h-1zM411 54h1v1h-1zM412 54h1v1h-1zM410 55h1v1h-1zM411 55h1v1h-1zM416 55h1v1h-1zM410 56h1v1h-1zM407 57h1v1h-1zM410 57h1v1h-1zM419 57h1v1h-1zM414 60h1v1h-1zM408 61h1v1h-1zM406 63h1v1h-1zM411 63h1v1h-1zM410 64h1v1h-1zM411 64h1v1h-1zM414 64h1v1h-1zM413 65h1v1h-1zM416 67h1v1h-1z" fill="#3a3a3a"/>
<path d="M416 56h1v1h-1zM412 57h1v1h-1zM410 58h1v1h-1zM411 58h1v1h-1zM412 58h1v1h-1zM415 58h1v1h-1zM410 59h1v1h-1zM412 59h1v1h-1zM416 59h1v1h-1zM408 60h1v1h-1zM409 60h1v1h-1zM410 60h1v1h-1zM413 60h1v1h-1zM415 60h1v1h-1zM414 61h1v1h-1zM416 61h1v1h-1zM408 62h1v1h-1zM411 62h1v1h-1zM412 62h1v1h-1zM415 62h1v1h-1zM414 63h1v1h-1zM415 63h1v1h-1zM408 64h1v1h-1zM409 64h1v1h-1z" fill="#777"/>
<path clip-path="url(#cb1)" d="M418.1 60.6 L418.2 62.4 L417.5 64.0 L416.6 65.4 L415.4 66.4 L414.1 66.9 L412.7 67.4 L411.3 66.9 L410.7 65.0 L410.3 63.6 L409.0 63.3 L407.6 62.3 L407.3 60.6 L407.1 58.8 L407.3 56.8 L408.4 55.3 L409.9 54.5 L411.4 54.5 L412.7 55.6 L413.7 56.2 L415.0 55.7 L416.5 56.0 L417.0 57.6 L417.3 59.1Z M416.3 60.4 L416.4 61.6 L416.0 62.7 L415.6 64.0 L414.9 65.1 L413.8 65.7 L412.7 65.6 L411.7 64.7 L411.3 63.3 L410.9 62.6 L409.8 62.4 L409.1 61.6 L409.0 60.4 L408.8 59.1 L408.8 57.6 L409.5 56.5 L410.7 56.0 L411.7 55.9 L412.7 56.2 L413.6 56.3 L414.6 56.2 L415.4 57.1 L415.4 58.5 L415.6 59.4Z" fill="none" stroke="#222" stroke-width="0.5" opacity="0.80"/>
<rect x="381.7" y="14.8" width="54.3" height="53.9" fill="none" stroke="#555" stroke-width="1"/>
<rect x="381.7" y="24.8" width="19" height="19.7" fill="none" stroke="#444" stroke-width="1"/>
<rect x="399.7" y="52.3" width="24" height="16.4" fill="none" stroke="#444" stroke-width="1"/>
<line x1="392.5" y1="68.7" x2="392.5" y2="67.4" stroke="#444" stroke-width="0.6"/>
<line x1="381.7" y1="25.6" x2="383.0" y2="25.6" stroke="#444" stroke-width="0.6"/>
<line x1="403.3" y1="68.7" x2="403.3" y2="67.4" stroke="#444" stroke-width="0.6"/>
<line x1="381.7" y1="36.4" x2="383.0" y2="36.4" stroke="#444" stroke-width="0.6"/>
<line x1="414.1" y1="68.7" x2="414.1" y2="67.4" stroke="#444" stroke-width="0.6"/>
<line x1="381.7" y1="47.2" x2="383.0" y2="47.2" stroke="#444" stroke-width="0.6"/>
<line x1="424.9" y1="68.7" x2="424.9" y2="67.4" stroke="#444" stroke-width="0.6"/>
<line x1="381.7" y1="58.0" x2="383.0" y2="58.0" stroke="#444" stroke-width="0.6"/>
<text x="455.2" y="8.1" font-size="9.8" textLength="44.9" lengthAdjust="spacingAndGlyphs" >dPH/RE/dC</text>
<path d="M480.5 49.4h0.8v0.8h-0.8zM463.0 36.2h0.8v0.8h-0.8zM467.2 41.1h0.8v0.8h-0.8zM458.4 46.1h0.8v0.8h-0.8zM465.8 47.8h0.8v0.8h-0.8zM478.0 43.7h0.8v0.8h-0.8zM499.6 44.4h0.8v0.8h-0.8zM484.9 48.0h0.8v0.8h-0.8zM485.1 28.0h0.8v0.8h-0.8zM462.7 49.0h0.8v0.8h-0.8zM478.9 65.7h0.8v0.8h-0.8zM475.6 57.2h0.8v0.8h-0.8zM480.9 54.6h0.8v0.8h-0.8zM477.8 45.8h0.8v0.8h-0.8zM477.8 38.4h0.8v0.8h-0.8zM485.9 38.9h0.8v0.8h-0.8zM474.7 64.0h0.8v0.8h-0.8zM469.0 47.2h0.8v0.8h-0.8zM485.7 47.2h0.8v0.8h-0.8zM462.0 49.1h0.8v0.8h-0.8zM478.7 52.7h0.8v0.8h-0.8zM462.4 61.0h0.8v0.8h-0.8zM491.7 47.1h0.8v0.8h-0.8zM474.9 43.6h0.8v0.8h-0.8zM488.7 41.4h0.8v0.8h-0.8zM479.8 43.2h0.8v0.8h-0.8zM463.4 52.7h0.8v0.8h-0.8zM487.7 46.9h0.8v0.8h-0.8zM463.6 53.5h0.8v0.8h-0.8zM471.1 49.5h0.8v0.8h-0.8zM490.0 56.1h0.8v0.8h-0.8zM465.5 65.3h0.8v0.8h-0.8zM471.7 53.3h0.8v0.8h-0.8zM463.9 46.6h0.8v0.8h-0.8zM488.1 37.3h0.8v0.8h-0.8zM453.6 34.0h0.8v0.8h-0.8zM485.8 43.3h0.8v0.8h-0.8zM471.0 44.5h0.8v0.8h-0.8zM470.2 38.3h0.8v0.8h-0.8zM472.0 35.5h0.8v0.8h-0.8zM470.8 49.5h0.8v0.8h-0.8zM477.3 45.1h0.8v0.8h-0.8zM460.9 48.3h0.8v0.8h-0.8zM465.9 59.5h0.8v0.8h-0.8zM480.9 46.1h0.8v0.8h-0.8zM466.0 41.4h0.8v0.8h-0.8zM460.5 44.2h0.8v0.8h-0.8zM475.2 51.1h0.8v0.8h-0.8zM478.5 63.8h0.8v0.8h-0.8zM463.2 47.1h0.8v0.8h-0.8zM465.4 48.4h0.8v0.8h-0.8zM473.6 50.3h0.8v0.8h-0.8zM468.8 49.9h0.8v0.8h-0.8zM472.3 53.2h0.8v0.8h-0.8zM471.7 38.7h0.8v0.8h-0.8zM459.2 52.0h0.8v0.8h-0.8zM463.9 52.1h0.8v0.8h-0.8zM480.6 49.5h0.8v0.8h-0.8zM477.8 46.2h0.8v0.8h-0.8zM454.8 46.8h0.8v0.8h-0.8zM477.2 42.8h0.8v0.8h-0.8zM470.5 53.0h0.8v0.8h-0.8zM461.2 52.1h0.8v0.8h-0.8zM494.1 42.6h0.8v0.8h-0.8zM473.5 45.8h0.8v0.8h-0.8zM490.2 49.5h0.8v0.8h-0.8zM482.5 41.5h0.8v0.8h-0.8zM471.5 46.9h0.8v0.8h-0.8zM482.5 33.0h0.8v0.8h-0.8zM480.6 46.0h0.8v0.8h-0.8zM477.1 49.9h0.8v0.8h-0.8zM453.7 45.3h0.8v0.8h-0.8zM489.6 42.4h0.8v0.8h-0.8zM459.4 36.1h0.8v0.8h-0.8zM457.0 49.7h0.8v0.8h-0.8zM492.0 50.4h0.8v0.8h-0.8zM474.6 64.9h0.8v0.8h-0.8zM465.5 41.6h0.8v0.8h-0.8zM478.0 51.4h0.8v0.8h-0.8zM459.5 37.6h0.8v0.8h-0.8zM475.2 49.0h0.8v0.8h-0.8zM456.0 45.4h0.8v0.8h-0.8zM465.2 50.7h0.8v0.8h-0.8zM470.3 46.3h0.8v0.8h-0.8zM467.5 55.4h0.8v0.8h-0.8zM488.4 44.1h0.8v0.8h-0.8zM481.9 40.9h0.8v0.8h-0.8zM472.6 53.0h0.8v0.8h-0.8zM489.9 43.9h0.8v0.8h-0.8zM470.8 48.6h0.8v0.8h-0.8zM453.7 47.1h0.8v0.8h-0.8zM463.6 50.0h0.8v0.8h-0.8zM458.1 31.2h0.8v0.8h-0.8zM472.2 49.1h0.8v0.8h-0.8zM465.1 54.1h0.8v0.8h-0.8zM468.4 42.2h0.8v0.8h-0.8zM477.4 34.5h0.8v0.8h-0.8zM463.6 46.8h0.8v0.8h-0.8zM481.9 45.7h0.8v0.8h-0.8zM475.4 41.8h0.8v0.8h-0.8zM475.3 60.3h0.8v0.8h-0.8zM463.5 65.9h0.8v0.8h-0.8zM464.0 47.1h0.8v0.8h-0.8zM473.8 55.2h0.8v0.8h-0.8zM456.9 30.2h0.8v0.8h-0.8zM479.0 53.4h0.8v0.8h-0.8z" fill="#555" opacity="0.6"/>
<path clip-path="url(#cb2)" d="M462.4 34.5 L462.5 36.2 L462.3 38.0 L461.2 39.4 L460.0 40.6 L458.4 41.5 L456.7 41.8 L454.8 41.9 L453.0 41.4 L451.8 39.7 L450.9 38.1 L449.6 36.5 L449.3 34.5 L450.5 32.7 L451.7 31.4 L452.6 30.1 L453.7 28.9 L455.0 27.8 L456.7 26.9 L458.6 26.9 L460.4 27.6 L462.3 28.5 L463.4 30.4 L462.9 32.7Z" fill="#d4d4d4"/>
<path d="M457 27h1v1h-1zM457 28h1v1h-1zM455 29h1v1h-1zM457 30h1v1h-1zM453 31h1v1h-1zM454 31h1v1h-1zM458 31h1v1h-1zM459 31h1v1h-1zM455 32h1v1h-1zM461 34h1v1h-1zM453 35h1v1h-1zM454 35h1v1h-1zM455 35h1v1h-1zM456 35h1v1h-1zM457 35h1v1h-1zM459 35h1v1h-1zM459 36h1v1h-1zM453 37h1v1h-1zM458 37h1v1h-1zM459 37h1v1h-1zM454 38h1v1h-1zM456 38h1v1h-1zM457 38h1v1h-1zM453 39h1v1h-1zM456 40h1v1h-1zM457 41h1v1h-1zM458 42h1v1h-1zM455 44h1v1h-1z" fill="#000"/>
<path d="M459 23h1v1h-1zM454 24h1v1h-1zM453 26h1v1h-1zM455 26h1v1h-1zM453 29h1v1h-1zM459 29h1v1h-1zM464 29h1v1h-1zM459 30h1v1h-1zM454 32h1v1h-1zM461 32h1v1h-1zM462 32h1v1h-1zM453 33h1v1h-1zM456 34h1v1h-1zM457 34h1v1h-1zM458 35h1v1h-1zM461 35h1v1h-1zM462 35h1v1h-1zM465 35h1v1h-1zM454 36h1v1h-1zM456 37h1v1h-1zM462 38h1v1h-1zM455 39h1v1h-1zM456 42h1v1h-1zM462 42h1v1h-1z" fill="#3a3a3a"/>
<path d="M463 24h1v1h-1zM454 27h1v1h-1zM458 27h1v1h-1zM459 27h1v1h-1zM456 28h1v1h-1zM463 29h1v1h-1zM458 30h1v1h-1zM458 32h1v1h-1zM456 33h1v1h-1zM463 33h1v1h-1zM455 34h1v1h-1zM463 35h1v1h-1zM457 36h1v1h-1zM460 38h1v1h-1zM460 39h1v1h-1zM461 40h1v1h-1zM459 41h1v1h-1z" fill="#777"/>
<path clip-path="url(#cb2)" d="M462.3 34.8 L462.0 36.5 L461.8 38.2 L460.8 39.6 L459.7 40.9 L458.3 42.3 L456.5 43.1 L454.4 43.7 L452.1 43.3 L451.1 40.9 L451.6 38.0 L451.4 36.4 L450.6 34.8 L450.9 33.2 L451.5 31.6 L451.9 29.6 L452.8 27.7 L454.5 26.5 L456.5 26.0 L458.4 27.0 L459.7 28.8 L461.2 29.6 L463.1 30.6 L463.3 32.8Z M462.3 33.8 L461.8 35.5 L461.0 36.9 L460.0 38.0 L458.6 38.4 L457.3 38.5 L456.2 38.3 L455.3 37.7 L454.2 37.6 L452.4 38.1 L450.8 37.3 L450.7 35.5 L450.9 33.8 L450.9 32.3 L451.6 30.9 L452.8 30.1 L453.9 29.5 L455.0 29.1 L456.2 28.9 L457.5 28.5 L458.7 29.0 L459.2 30.5 L459.9 31.5 L461.4 32.3Z" fill="none" stroke="#222" stroke-width="0.5" opacity="0.63"/>
<path d="M455 29h1v1h-1zM453 32h1v1h-1zM455 32h1v1h-1zM453 33h1v1h-1zM453 34h1v1h-1zM454 34h1v1h-1zM456 37h1v1h-1zM453 42h1v1h-1z" fill="#000"/>
<path d="M457 25h1v1h-1zM454 30h1v1h-1zM456 31h1v1h-1zM457 33h1v1h-1zM456 34h1v1h-1zM455 36h1v1h-1zM454 37h1v1h-1zM457 37h1v1h-1zM453 38h1v1h-1zM455 38h1v1h-1zM455 39h1v1h-1zM458 41h1v1h-1z" fill="#3a3a3a"/>
<path d="M453 28h1v1h-1zM455 30h1v1h-1zM454 33h1v1h-1zM456 33h1v1h-1zM455 34h1v1h-1zM454 35h1v1h-1z" fill="#777"/>
<path clip-path="url(#cb2)" d="" fill="none" stroke="#222" stroke-width="0.5" opacity="0.70"/>
<path clip-path="url(#cb2)" d="M466.8 60.5 L466.8 62.9 L465.6 64.8 L463.8 66.0 L462.4 67.5 L460.8 69.1 L458.7 69.0 L456.9 67.8 L455.3 66.8 L453.9 65.7 L452.8 64.2 L451.8 62.5 L451.1 60.5 L451.2 58.3 L451.3 55.9 L452.2 53.5 L454.5 52.6 L456.9 53.2 L458.7 53.4 L460.5 53.4 L462.1 54.1 L463.5 55.3 L465.0 56.6 L466.1 58.3Z" fill="#d0d0d0"/>
<path d="M460 52h1v1h-1zM462 52h1v1h-1zM458 53h1v1h-1zM459 53h1v1h-1zM458 54h1v1h-1zM460 54h1v1h-1zM461 54h1v1h-1zM463 54h1v1h-1zM464 54h1v1h-1zM458 55h1v1h-1zM459 55h1v1h-1zM461 55h1v1h-1zM457 56h1v1h-1zM466 56h1v1h-1zM458 57h1v1h-1zM459 57h1v1h-1zM457 58h1v1h-1zM460 58h1v1h-1zM458 59h1v1h-1zM459 59h1v1h-1zM460 59h1v1h-1zM461 59h1v1h-1zM454 60h1v1h-1zM455 60h1v1h-1zM457 60h1v1h-1zM459 60h1v1h-1zM460 60h1v1h-1zM463 60h1v1h-1zM456 61h1v1h-1zM460 61h1v1h-1zM463 61h1v1h-1zM465 61h1v1h-1zM458 62h1v1h-1zM461 62h1v1h-1zM462 62h1v1h-1zM463 62h1v1h-1zM456 63h1v1h-1zM458 63h1v1h-1zM461 63h1v1h-1zM465 63h1v1h-1zM456 64h1v1h-1zM458 64h1v1h-1zM459 64h1v1h-1zM460 64h1v1h-1zM461 64h1v1h-1zM462 64h1v1h-1zM467 65h1v1h-1zM454 66h1v1h-1zM458 66h1v1h-1zM455 67h1v1h-1zM457 67h1v1h-1zM458 67h1v1h-1z" fill="#000"/>
<path d="M459 48h1v1h-1zM460 48h1v1h-1zM455 51h1v1h-1zM459 52h1v1h-1zM465 52h1v1h-1zM463 53h1v1h-1zM459 54h1v1h-1zM457 55h1v1h-1zM464 55h1v1h-1zM465 55h1v1h-1zM464 56h1v1h-1zM460 57h1v1h-1zM466 57h1v1h-1zM463 59h1v1h-1zM462 60h1v1h-1zM454 61h1v1h-1zM466 61h1v1h-1zM465 62h1v1h-1zM467 62h1v1h-1zM468 64h1v1h-1zM469 64h1v1h-1zM454 65h1v1h-1zM457 65h1v1h-1zM459 65h1v1h-1zM459 66h1v1h-1zM460 66h1v1h-1zM468 66h1v1h-1zM454 67h1v1h-1zM456 67h1v1h-1z" fill="#3a3a3a"/>
<path d="M455 49h1v1h-1zM461 52h1v1h-1zM454 54h1v1h-1zM466 54h1v1h-1zM455 55h1v1h-1zM454 56h1v1h-1zM454 58h1v1h-1zM455 58h1v1h-1zM461 58h1v1h-1zM463 58h1v1h-1zM469 58h1v1h-1zM456 59h1v1h-1zM457 61h1v1h-1zM458 61h1v1h-1zM455 62h1v1h-1zM457 62h1v1h-1zM453 63h1v1h-1zM457 63h1v1h-1zM459 63h1v1h-1zM468 63h1v1h-1zM454 64h1v1h-1zM455 64h1v1h-1zM457 64h1v1h-1zM456 65h1v1h-1zM462 65h1v1h-1zM461 66h1v1h-1z" fill="#777"/>
<path clip-path="url(#cb2)" d="M468.0 59.9 L467.6 62.5 L466.3 64.7 L464.1 65.7 L462.0 65.9 L460.6 67.2 L458.9 68.6 L457.0 67.7 L455.8 66.0 L454.1 65.2 L452.3 64.1 L451.5 62.1 L451.1 59.9 L450.9 57.5 L451.6 55.1 L452.7 52.9 L454.5 51.2 L457.0 52.0 L458.9 53.9 L460.3 53.9 L462.3 53.4 L463.8 54.3 L465.2 55.8 L467.0 57.4Z M465.3 60.5 L464.8 62.3 L464.3 64.0 L463.1 65.1 L461.4 65.1 L460.2 65.5 L459.0 66.7 L457.5 66.6 L456.5 65.3 L455.7 64.3 L454.6 63.4 L453.6 62.1 L452.8 60.5 L452.6 58.6 L453.6 57.0 L454.8 55.8 L455.9 54.6 L457.6 54.6 L459.0 56.0 L460.0 56.5 L461.3 56.0 L462.9 56.1 L464.2 57.2 L465.2 58.7Z M462.8 60.9 L462.0 61.8 L461.6 62.6 L461.2 63.4 L460.7 64.1 L460.0 64.8 L459.0 64.8 L458.2 64.3 L457.4 64.1 L456.2 64.1 L455.5 63.2 L455.4 62.0 L455.2 60.9 L455.2 59.8 L455.9 58.9 L456.9 58.5 L457.7 58.3 L458.4 58.2 L459.0 57.6 L460.0 56.7 L461.1 56.9 L461.8 57.9 L462.5 58.7 L463.1 59.7Z" fill="none" stroke="#222" stroke-width="0.5" opacity="0.63"/>
<path d="M478 55h1v1h-1zM467 56h1v1h-1zM477 57h1v1h-1zM474 59h1v1h-1zM477 59h1v1h-1zM473 60h1v1h-1zM475 60h1v1h-1zM472 63h1v1h-1zM475 63h1v1h-1zM474 66h1v1h-1zM478 67h1v1h-1z" fill="#000"/>
<path d="M473 54h1v1h-1zM479 55h1v1h-1zM471 57h1v1h-1zM479 57h1v1h-1zM482 57h1v1h-1zM475 58h1v1h-1zM472 60h1v1h-1zM478 61h1v1h-1zM480 61h1v1h-1zM474 63h1v1h-1zM482 66h1v1h-1z" fill="#3a3a3a"/>
<path d="M468 55h1v1h-1zM473 56h1v1h-1zM474 56h1v1h-1zM475 56h1v1h-1zM474 60h1v1h-1zM478 60h1v1h-1zM470 62h1v1h-1zM472 64h1v1h-1zM473 64h1v1h-1zM476 66h1v1h-1z" fill="#777"/>
<path clip-path="url(#cb2)" d="M482.9 61.1 L482.1 63.0 L481.7 64.9 L480.3 66.2 L478.1 65.9 L476.7 65.7 L475.5 66.3 L474.0 67.0 L472.2 67.3 L470.3 66.6 L469.5 64.8 L469.2 62.9 L468.4 61.1 L468.6 59.1 L470.3 57.9 L471.6 56.9 L472.4 55.3 L473.9 54.5 L475.5 54.8 L476.9 55.4 L478.2 56.2 L479.5 56.8 L481.5 57.4 L483.1 58.9Z" fill="none" stroke="#222" stroke-width="0.5" opacity="0.32"/>
<path clip-path="url(#cb2)" d="M487.1 61.5 L486.7 63.1 L486.0 64.5 L484.8 65.2 L483.7 65.6 L482.8 66.6 L481.7 67.9 L480.2 68.0 L479.0 67.2 L477.8 66.2 L476.9 64.8 L476.6 63.1 L476.6 61.5 L477.0 60.0 L477.7 58.8 L478.3 57.4 L479.1 56.0 L480.4 55.7 L481.7 56.2 L482.9 56.0 L484.4 55.9 L485.6 56.8 L486.6 58.2 L487.2 59.8Z" fill="#d0d0d0"/>
<path d="M484 54h1v1h-1zM486 54h1v1h-1zM482 55h1v1h-1zM482 57h1v1h-1zM479 58h1v1h-1zM480 58h1v1h-1zM482 58h1v1h-1zM483 58h1v1h-1zM479 59h1v1h-1zM483 59h1v1h-1zM481 60h1v1h-1zM481 61h1v1h-1zM483 61h1v1h-1zM484 61h1v1h-1zM478 62h1v1h-1zM480 62h1v1h-1zM481 62h1v1h-1zM478 63h1v1h-1zM480 63h1v1h-1zM482 63h1v1h-1zM483 63h1v1h-1zM480 64h1v1h-1zM481 64h1v1h-1zM483 64h1v1h-1zM484 64h1v1h-1zM481 65h1v1h-1zM475 66h1v1h-1zM483 66h1v1h-1zM480 67h1v1h-1z" fill="#000"/>
<path d="M478 52h1v1h-1zM483 52h1v1h-1zM480 53h1v1h-1zM484 53h1v1h-1zM478 54h1v1h-1zM480 54h1v1h-1zM481 54h1v1h-1zM478 55h1v1h-1zM480 55h1v1h-1zM485 55h1v1h-1zM478 56h1v1h-1zM481 57h1v1h-1zM484 57h1v1h-1zM484 58h1v1h-1zM486 58h1v1h-1zM480 59h1v1h-1zM481 59h1v1h-1zM484 59h1v1h-1zM487 59h1v1h-1zM478 60h1v1h-1zM480 60h1v1h-1zM484 60h1v1h-1zM485 60h1v1h-1zM487 60h1v1h-1zM479 61h1v1h-1zM480 61h1v1h-1zM482 61h1v1h-1zM484 62h1v1h-1zM485 62h1v1h-1zM476 64h1v1h-1zM477 64h1v1h-1zM482 64h1v1h-1zM485 64h1v1h-1zM486 64h1v1h-1zM480 65h1v1h-1zM482 65h1v1h-1zM486 65h1v1h-1zM482 66h1v1h-1zM474 67h1v1h-1zM475 67h1v1h-1zM483 67h1v1h-1z" fill="#3a3a3a"/>
<path d="M482 56h1v1h-1zM484 56h1v1h-1zM476 57h1v1h-1zM477 57h1v1h-1zM475 58h1v1h-1zM476 58h1v1h-1zM481 58h1v1h-1zM482 59h1v1h-1zM475 60h1v1h-1zM486 61h1v1h-1zM489 61h1v1h-1zM479 62h1v1h-1zM484 63h1v1h-1zM479 64h1v1h-1zM484 65h1v1h-1zM474 66h1v1h-1zM477 66h1v1h-1zM480 66h1v1h-1z" fill="#777"/>
<path clip-path="url(#cb2)" d="M486.6 61.9 L486.9 63.7 L486.0 65.3 L484.9 66.3 L483.7 67.2 L482.5 67.4 L481.3 67.5 L480.1 67.4 L479.1 66.4 L478.3 65.6 L476.5 65.3 L474.8 64.0 L474.9 61.9 L475.8 60.1 L476.6 58.6 L477.8 57.6 L479.1 57.2 L480.2 56.9 L481.3 56.8 L482.4 56.7 L483.9 56.2 L485.6 56.5 L486.1 58.4 L486.0 60.3Z M485.3 61.4 L485.3 62.5 L485.5 63.8 L485.1 65.2 L484.4 66.3 L483.3 67.0 L482.1 66.4 L481.2 65.2 L480.4 64.9 L479.4 64.7 L479.0 63.6 L479.0 62.5 L478.6 61.4 L478.5 60.2 L478.8 59.1 L479.3 58.0 L480.1 57.2 L481.1 56.8 L482.1 56.1 L483.3 55.8 L484.1 57.1 L484.2 58.8 L484.5 59.7 L485.1 60.4Z" fill="none" stroke="#222" stroke-width="0.5" opacity="0.80"/>
<rect x="451.7" y="14.8" width="54.3" height="53.9" fill="none" stroke="#555" stroke-width="1"/>
<rect x="451.7" y="24.8" width="19" height="19.7" fill="none" stroke="#444" stroke-width="1"/>
<rect x="469.7" y="52.3" width="24" height="16.4" fill="none" stroke="#444" stroke-width="1"/>
<line x1="462.5" y1="68.7" x2="462.5" y2="67.4" stroke="#444" stroke-width="0.6"/>
<line x1="451.7" y1="25.6" x2="453.0" y2="25.6" stroke="#444" stroke-width="0.6"/>
<line x1="473.3" y1="68.7" x2="473.3" y2="67.4" stroke="#444" stroke-width="0.6"/>
<line x1="451.7" y1="36.4" x2="453.0" y2="36.4" stroke="#444" stroke-width="0.6"/>
<line x1="484.1" y1="68.7" x2="484.1" y2="67.4" stroke="#444" stroke-width="0.6"/>
<line x1="451.7" y1="47.2" x2="453.0" y2="47.2" stroke="#444" stroke-width="0.6"/>
<line x1="494.9" y1="68.7" x2="494.9" y2="67.4" stroke="#444" stroke-width="0.6"/>
<line x1="451.7" y1="58.0" x2="453.0" y2="58.0" stroke="#444" stroke-width="0.6"/>
<text x="331.8" y="36.4" font-size="9.8" textLength="12.2" lengthAdjust="spacingAndGlyphs" >2%</text>
<text x="350.2" y="51.1" font-size="9.8" textLength="11.3" lengthAdjust="spacingAndGlyphs" >1%</text>
<text x="402.3" y="36.5" font-size="9.8" textLength="11.6" lengthAdjust="spacingAndGlyphs" >2%</text>
<text x="417.8" y="50.3" font-size="9.8" textLength="17.4" lengthAdjust="spacingAndGlyphs" >38%</text>
<text x="470.8" y="37.1" font-size="9.8" textLength="16.4" lengthAdjust="spacingAndGlyphs" >30%</text>
<text x="485.0" y="50.3" font-size="9.8" textLength="16.5" lengthAdjust="spacingAndGlyphs" >36%</text>
<text x="316.5" y="92.7" font-size="9.8" textLength="24.9" lengthAdjust="spacingAndGlyphs" >B220<tspan font-size="8.2" dx="0.5" dy="-2.1">+</tspan></text>
<text x="444.3" y="92.5" font-size="9.8" textLength="20.6" lengthAdjust="spacingAndGlyphs" >CD3<tspan font-size="8.2" dx="0.5" dy="-2.1">+</tspan></text>
<line x1="290.6" y1="97.4" x2="290.6" y2="205.3" stroke="#3c3c3c" stroke-width="1.05" />
<line x1="290.1" y1="205.3" x2="396.5" y2="205.3" stroke="#3c3c3c" stroke-width="1.05" />
<line x1="412.1" y1="97.4" x2="412.1" y2="205.3" stroke="#3c3c3c" stroke-width="1.05" />
<line x1="411.6" y1="205.3" x2="519" y2="205.3" stroke="#3c3c3c" stroke-width="1.05" />
<line x1="290.6" y1="97.6" x2="292.4" y2="97.6" stroke="#3c3c3c" stroke-width="0.8" />
<line x1="412.1" y1="97.6" x2="413.9" y2="97.6" stroke="#3c3c3c" stroke-width="0.8" />
<line x1="290.6" y1="119.14999999999999" x2="292.4" y2="119.14999999999999" stroke="#3c3c3c" stroke-width="0.8" />
<line x1="412.1" y1="119.14999999999999" x2="413.9" y2="119.14999999999999" stroke="#3c3c3c" stroke-width="0.8" />
<line x1="290.6" y1="140.7" x2="292.4" y2="140.7" stroke="#3c3c3c" stroke-width="0.8" />
<line x1="412.1" y1="140.7" x2="413.9" y2="140.7" stroke="#3c3c3c" stroke-width="0.8" />
<line x1="290.6" y1="162.25" x2="292.4" y2="162.25" stroke="#3c3c3c" stroke-width="0.8" />
<line x1="412.1" y1="162.25" x2="413.9" y2="162.25" stroke="#3c3c3c" stroke-width="0.8" />
<line x1="290.6" y1="183.8" x2="292.4" y2="183.8" stroke="#3c3c3c" stroke-width="0.8" />
<line x1="412.1" y1="183.8" x2="413.9" y2="183.8" stroke="#3c3c3c" stroke-width="0.8" />
<text x="287.7" y="104.6" font-size="9.6" text-anchor="end" textLength="9.4" lengthAdjust="spacingAndGlyphs">50</text>
<text x="287.9" y="157.0" font-size="9.6" text-anchor="end" textLength="9.4" lengthAdjust="spacingAndGlyphs">25</text>
<text x="409.8" y="104.8" font-size="9.6" text-anchor="end" textLength="14.4" lengthAdjust="spacingAndGlyphs">100</text>
<text x="409.0" y="156.5" font-size="9.6" text-anchor="end" textLength="9.4" lengthAdjust="spacingAndGlyphs">50</text>
<line x1="364.6" y1="102.5" x2="364.6" y2="205.3" stroke="#333" stroke-width="1.0" stroke-dasharray="9 4"/>
<line x1="486.4" y1="102.5" x2="486.4" y2="205.3" stroke="#333" stroke-width="1.0" stroke-dasharray="9 4"/>
<text transform="translate(273.6,188.6) rotate(-90)" font-size="9.2" textLength="70.5" lengthAdjust="spacingAndGlyphs" style="stroke-width:0.12px">% of total PB cells</text>
<text x="312.9" y="217.7" font-size="9.0" text-anchor="middle" textLength="4.8" lengthAdjust="spacingAndGlyphs">8</text>
<text x="342.6" y="217.7" font-size="9.0" text-anchor="middle" textLength="9.5" lengthAdjust="spacingAndGlyphs">16</text>
<text x="382.2" y="217.7" font-size="9.0" text-anchor="middle" textLength="12.4" lengthAdjust="spacingAndGlyphs">+/+</text>
<text x="435.0" y="217.7" font-size="9.0" text-anchor="middle" textLength="4.8" lengthAdjust="spacingAndGlyphs">8</text>
<text x="464.4" y="217.7" font-size="9.0" text-anchor="middle" textLength="9.5" lengthAdjust="spacingAndGlyphs">16</text>
<text x="504.9" y="217.7" font-size="9.0" text-anchor="middle" textLength="12.4" lengthAdjust="spacingAndGlyphs">+/+</text>
<text class="b" x="361.8" y="230.0" font-size="8.3" textLength="86.8" lengthAdjust="spacingAndGlyphs" >Weeks after transplant</text>
<circle cx="305.8" cy="185.1" r="3.0" fill="#fff" stroke="#000" stroke-width="1.1"/>
<circle cx="300.2" cy="196.8" r="3.0" fill="#fff" stroke="#000" stroke-width="1.1"/>
<circle cx="306.2" cy="193.0" r="3.0" fill="#fff" stroke="#000" stroke-width="1.1"/>
<circle cx="306.0" cy="198.7" r="3.0" fill="#fff" stroke="#000" stroke-width="1.1"/>
<circle cx="311.5" cy="199.0" r="3.0" fill="#fff" stroke="#000" stroke-width="1.1"/>
<line x1="330" y1="180.2" x2="341.4" y2="180.2" stroke="#111" stroke-width="1.5" />
<circle cx="336.5" cy="164.6" r="3.0" fill="#fff" stroke="#000" stroke-width="1.1"/>
<circle cx="332.7" cy="169.9" r="3.0" fill="#fff" stroke="#000" stroke-width="1.1"/>
<circle cx="338.0" cy="172.2" r="3.0" fill="#fff" stroke="#000" stroke-width="1.1"/>
<circle cx="335.8" cy="194.0" r="3.0" fill="#fff" stroke="#000" stroke-width="1.1"/>
<circle cx="335.8" cy="198.7" r="3.0" fill="#fff" stroke="#000" stroke-width="1.1"/>
<circle cx="318.7" cy="143.4" r="3.0" fill="#686868" stroke="#000" stroke-width="1.1"/>
<circle cx="313.4" cy="162.7" r="3.0" fill="#686868" stroke="#000" stroke-width="1.1"/>
<circle cx="318.7" cy="158.9" r="3.0" fill="#686868" stroke="#000" stroke-width="1.1"/>
<circle cx="321.9" cy="162.7" r="3.0" fill="#686868" stroke="#000" stroke-width="1.1"/>
<circle cx="318.7" cy="166.1" r="3.0" fill="#686868" stroke="#000" stroke-width="1.1"/>
<circle cx="317.0" cy="162.5" r="3.0" fill="#686868" stroke="#000" stroke-width="1.1"/>
<line x1="313.5" y1="159.6" x2="323.5" y2="159.6" stroke="#111" stroke-width="1.5" />
<line x1="342.4" y1="133.6" x2="354.4" y2="133.6" stroke="#111" stroke-width="1.5" />
<circle cx="347.7" cy="113.7" r="3.0" fill="#686868" stroke="#000" stroke-width="1.1"/>
<circle cx="353.8" cy="121.3" r="3.0" fill="#686868" stroke="#000" stroke-width="1.1"/>
<circle cx="344.3" cy="139.6" r="3.0" fill="#686868" stroke="#000" stroke-width="1.1"/>
<circle cx="352.5" cy="138.3" r="3.0" fill="#686868" stroke="#000" stroke-width="1.1"/>
<circle cx="348.3" cy="152.1" r="3.0" fill="#686868" stroke="#000" stroke-width="1.1"/>
<path d="M308 133.5V131.4H317.5V133.5M337.3 108.2V106.1H346.2V108.2" fill="none" stroke="#222" stroke-width="0.9"/>
<path d="M312.90 123.70L312.90 128.30M310.91 124.85L314.89 127.15M310.91 127.15L314.89 124.85" stroke="#111" stroke-width="1.1"/>
<path d="M341.70 98.30L341.70 102.90M339.71 99.45L343.69 101.75M339.71 101.75L343.69 99.45" stroke="#111" stroke-width="1.1"/>
<rect x="377.7" y="130.9" width="7.2" height="7.2" fill="#686868" stroke="#000" stroke-width="1.1"/>
<rect x="374.1" y="142.8" width="7.2" height="7.2" fill="#686868" stroke="#000" stroke-width="1.1"/>
<rect x="380.1" y="139.4" width="7.2" height="7.2" fill="#686868" stroke="#000" stroke-width="1.1"/>
<rect x="381.1" y="145.5" width="7.2" height="7.2" fill="#686868" stroke="#000" stroke-width="1.1"/>
<rect x="378.8" y="153.6" width="7.2" height="7.2" fill="#686868" stroke="#000" stroke-width="1.1"/>
<line x1="420.5" y1="186.8" x2="431.9" y2="186.8" stroke="#111" stroke-width="1.5" />
<circle cx="429.6" cy="156.7" r="3.0" fill="#fff" stroke="#000" stroke-width="1.1"/>
<circle cx="429.6" cy="173.7" r="3.0" fill="#fff" stroke="#000" stroke-width="1.1"/>
<circle cx="423.9" cy="201.6" r="3.0" fill="#fff" stroke="#000" stroke-width="1.1"/>
<circle cx="426.2" cy="203.1" r="3.0" fill="#fff" stroke="#000" stroke-width="1.1"/>
<circle cx="431.1" cy="200.6" r="3.0" fill="#fff" stroke="#000" stroke-width="1.1"/>
<circle cx="446.3" cy="150.4" r="3.0" fill="#686868" stroke="#000" stroke-width="1.1"/>
<circle cx="441.9" cy="168.0" r="3.0" fill="#686868" stroke="#000" stroke-width="1.1"/>
<circle cx="444.8" cy="175.0" r="3.0" fill="#686868" stroke="#000" stroke-width="1.1"/>
<circle cx="440.0" cy="180.3" r="3.0" fill="#686868" stroke="#000" stroke-width="1.1"/>
<circle cx="442.3" cy="204.8" r="3.0" fill="#686868" stroke="#000" stroke-width="1.1"/>
<line x1="436.3" y1="176" x2="446.7" y2="176" stroke="#111" stroke-width="1.5" />
<circle cx="455.8" cy="145.7" r="3.0" fill="#fff" stroke="#000" stroke-width="1.1"/>
<circle cx="461.3" cy="147.0" r="3.0" fill="#fff" stroke="#000" stroke-width="1.1"/>
<circle cx="459.9" cy="158.9" r="3.0" fill="#fff" stroke="#000" stroke-width="1.1"/>
<circle cx="455.8" cy="163.7" r="3.0" fill="#fff" stroke="#000" stroke-width="1.1"/>
<circle cx="459.9" cy="167.1" r="3.0" fill="#fff" stroke="#000" stroke-width="1.1"/>
<line x1="452.3" y1="156.7" x2="463.7" y2="156.7" stroke="#111" stroke-width="1.5" />
<circle cx="472.8" cy="153.3" r="3.0" fill="#686868" stroke="#000" stroke-width="1.1"/>
<circle cx="471.3" cy="159.3" r="3.0" fill="#686868" stroke="#000" stroke-width="1.1"/>
<circle cx="469.4" cy="167.5" r="3.0" fill="#686868" stroke="#000" stroke-width="1.1"/>
<circle cx="475.1" cy="169.4" r="3.0" fill="#686868" stroke="#000" stroke-width="1.1"/>
<circle cx="472.2" cy="177.9" r="3.0" fill="#686868" stroke="#000" stroke-width="1.1"/>
<line x1="467.5" y1="165" x2="478.5" y2="165" stroke="#111" stroke-width="1.5" />
<rect x="500.2" y="146.7" width="7.2" height="7.2" fill="#686868" stroke="#000" stroke-width="1.1"/>
<rect x="504.2" y="146.9" width="7.2" height="7.2" fill="#686868" stroke="#000" stroke-width="1.1"/>
<rect x="500.4" y="156.5" width="7.2" height="7.2" fill="#686868" stroke="#000" stroke-width="1.1"/>
<rect x="504.4" y="153.7" width="7.2" height="7.2" fill="#686868" stroke="#000" stroke-width="1.1"/>
<rect x="496.4" y="150.2" width="7.2" height="7.2" fill="#686868" stroke="#000" stroke-width="1.1"/>
<text class="b" x="265.2" y="282.6" font-size="13" style="stroke:#000;stroke-width:0.35px">D</text>
<text class="b" x="316.7" y="281.1" font-size="8.3" textLength="40.5" lengthAdjust="spacingAndGlyphs" >Tranferred</text>
<text class="b" x="328.4" y="290.8" font-size="8.3" textLength="17.6" lengthAdjust="spacingAndGlyphs" >cells</text>
<text x="382.1" y="281.2" font-size="9.3" textLength="80.8" lengthAdjust="spacingAndGlyphs" >PB cells of recipients</text>
<text class="b" x="372.1" y="291.4" font-size="8.3" textLength="32.6" lengthAdjust="spacingAndGlyphs" >4 weeks</text>
<text class="b" x="442.9" y="291.4" font-size="8.3" textLength="31.9" lengthAdjust="spacingAndGlyphs" >8 weeks</text>
<line x1="320" y1="296.2" x2="353" y2="296.2" stroke="#111" stroke-width="1.5" />
<line x1="357.8" y1="296.2" x2="418" y2="296.2" stroke="#111" stroke-width="1.5" />
<line x1="427.2" y1="296.2" x2="487.8" y2="296.2" stroke="#111" stroke-width="1.5" />
<text class="b" x="322.9" y="309.0" font-size="8.3" textLength="5.8" lengthAdjust="spacingAndGlyphs" >V</text>
<text class="b" x="337.9" y="309.0" font-size="8.3" textLength="11.5" lengthAdjust="spacingAndGlyphs" >DN</text>
<text class="b" x="359.3" y="309.0" font-size="8.3" textLength="5.0" lengthAdjust="spacingAndGlyphs" >V</text>
<text class="b" x="374.9" y="309.0" font-size="8.3" textLength="4.9" lengthAdjust="spacingAndGlyphs" >V</text>
<text class="b" x="388.4" y="309.0" font-size="8.3" textLength="12.0" lengthAdjust="spacingAndGlyphs" >DN</text>
<text class="b" x="406.3" y="309.0" font-size="8.3" textLength="12.1" lengthAdjust="spacingAndGlyphs" >DN</text>
<text class="b" x="427.7" y="309.0" font-size="8.3" textLength="5.1" lengthAdjust="spacingAndGlyphs" >V</text>
<text class="b" x="444.3" y="309.0" font-size="8.3" textLength="5.1" lengthAdjust="spacingAndGlyphs" >V</text>
<text class="b" x="458.0" y="309.0" font-size="8.3" textLength="11.4" lengthAdjust="spacingAndGlyphs" >DN</text>
<text class="b" x="476.1" y="309.0" font-size="8.3" textLength="12.2" lengthAdjust="spacingAndGlyphs" >DN</text>
<text class="b" x="279.0" y="325.1" font-size="8.3" textLength="15.2" lengthAdjust="spacingAndGlyphs" >Neo</text>
<text class="b" x="279.4" y="349.5" font-size="8.3" textLength="15.2" lengthAdjust="spacingAndGlyphs" >Rag</text>
<rect x="299.8" y="313.6" width="210" height="16.6" fill="#e3e3e3"/>
<rect x="299.8" y="340.4" width="210" height="16.3" fill="#e5e5e5"/>
<rect x="303" y="318.2" width="13.0" height="1.2" rx="0.6" fill="#aaa" filter="url(#bl)"/>
<rect x="303" y="320.7" width="13.0" height="1.0" rx="0.5" fill="#f4f4f4" filter="url(#bl)"/>
<rect x="303" y="323.1" width="13.0" height="1.5" rx="0.8" fill="#8a8a8a" filter="url(#bl)"/>
<rect x="494.6" y="318.2" width="12.1" height="1.2" rx="0.6" fill="#aaa" filter="url(#bl)"/>
<rect x="494.6" y="320.7" width="12.1" height="1.0" rx="0.5" fill="#f4f4f4" filter="url(#bl)"/>
<rect x="494.6" y="323.1" width="12.1" height="1.5" rx="0.8" fill="#8a8a8a" filter="url(#bl)"/>
<rect x="303" y="345.8" width="10.0" height="1.2" rx="0.6" fill="#b0b0b0" filter="url(#bl)"/>
<rect x="302.5" y="348.2" width="10.5" height="1.2" rx="0.6" fill="#f4f4f4" filter="url(#bl)"/>
<rect x="302" y="350.6" width="12.0" height="1.6" rx="0.8" fill="#8a8a8a" filter="url(#bl)"/>
<rect x="496" y="346.0" width="9.3" height="1.2" rx="0.6" fill="#b0b0b0" filter="url(#bl)"/>
<rect x="496" y="349.0" width="9.3" height="1.2" rx="0.6" fill="#f4f4f4" filter="url(#bl)"/>
<rect x="496" y="352.0" width="9.3" height="1.6" rx="0.8" fill="#8a8a8a" filter="url(#bl)"/>
<ellipse cx="327.2" cy="325.5" rx="6.1" ry="1.10" fill="#1a1a1a" filter="url(#bl)"/>
<rect x="323.2" y="324.7" width="8.0" height="1.5" fill="#1a1a1a" filter="url(#bl)"/>
<ellipse cx="345.1" cy="326.0" rx="6.1" ry="1.00" fill="#1a1a1a" filter="url(#bl)"/>
<rect x="341.1" y="325.3" width="8.0" height="1.4" fill="#1a1a1a" filter="url(#bl)"/>
<ellipse cx="325.6" cy="347.0" rx="6.3" ry="2.00" fill="#0a0a0a" filter="url(#bl)"/>
<rect x="321.3" y="345.6" width="8.5" height="2.8" fill="#0a0a0a" filter="url(#bl)"/>
<ellipse cx="342.9" cy="346.8" rx="6.4" ry="1.90" fill="#101010" filter="url(#bl)"/>
<rect x="338.6" y="345.5" width="8.6" height="2.7" fill="#101010" filter="url(#bl)"/>
<ellipse cx="360.2" cy="345.9" rx="5.8" ry="1.40" fill="#1a1a1a" filter="url(#bl)"/>
<rect x="356.5" y="344.9" width="7.4" height="2.0" fill="#1a1a1a" filter="url(#bl)"/>
<ellipse cx="377.8" cy="345.9" rx="6.1" ry="1.40" fill="#1a1a1a" filter="url(#bl)"/>
<rect x="373.8" y="344.9" width="8.0" height="2.0" fill="#1a1a1a" filter="url(#bl)"/>
<ellipse cx="395.6" cy="346.4" rx="6.0" ry="1.90" fill="#101010" filter="url(#bl)"/>
<rect x="391.7" y="345.1" width="7.8" height="2.7" fill="#101010" filter="url(#bl)"/>
<ellipse cx="412.4" cy="345.9" rx="5.9" ry="1.40" fill="#1a1a1a" filter="url(#bl)"/>
<rect x="408.5" y="344.9" width="7.7" height="2.0" fill="#1a1a1a" filter="url(#bl)"/>
<ellipse cx="429.9" cy="346.1" rx="6.0" ry="1.70" fill="#141414" filter="url(#bl)"/>
<rect x="426.0" y="344.9" width="7.8" height="2.4" fill="#141414" filter="url(#bl)"/>
<ellipse cx="447.6" cy="346.3" rx="5.8" ry="1.50" fill="#1a1a1a" filter="url(#bl)"/>
<rect x="444.0" y="345.2" width="7.3" height="2.1" fill="#1a1a1a" filter="url(#bl)"/>
<ellipse cx="465.3" cy="347.2" rx="6.4" ry="1.90" fill="#101010" filter="url(#bl)"/>
<rect x="461.0" y="345.9" width="8.6" height="2.7" fill="#101010" filter="url(#bl)"/>
<ellipse cx="482.7" cy="347.3" rx="6.3" ry="1.90" fill="#101010" filter="url(#bl)"/>
<rect x="478.5" y="346.0" width="8.4" height="2.7" fill="#101010" filter="url(#bl)"/>
</svg></body></html>
